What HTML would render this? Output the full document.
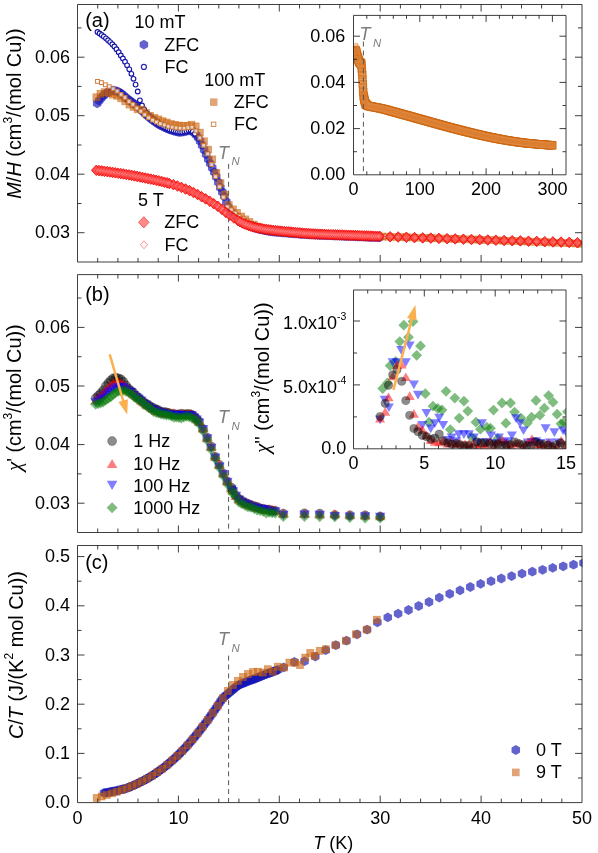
<!DOCTYPE html>
<html><head><meta charset="utf-8"><title>chart</title>
<style>
html,body{margin:0;padding:0;background:#fff;}
svg{display:block;will-change:transform;font-family:"Liberation Sans", sans-serif;}
text{font-family:"Liberation Sans", sans-serif;fill:#000;}
.t{font-size:18px;}
.yt{font-size:19.9px;}
.g{fill:#7d7d7d;font-style:italic;}
.ln{stroke:#1c1c1c;stroke-width:0.85;fill:none;}
.dash{stroke:#555;stroke-width:1;stroke-dasharray:5 3.9;fill:none;}
</style></head><body>
<svg width="598" height="853" viewBox="0 0 598 853">
<rect x="0" y="0" width="598" height="853" fill="#fff"/>
<defs>
<polygon id="hx" points="0.00,-4.90 -4.24,-2.45 -4.24,2.45 -0.00,4.90 4.24,2.45 4.24,-2.45" fill="#1616b6" fill-opacity="0.67"/>
<circle id="oc" r="2.35" fill="#fff" stroke="#1616a8" stroke-width="1.15"/>
<rect id="sq" x="-3.5" y="-3.5" width="7" height="7" fill="#ca6107" fill-opacity="0.58" stroke="#c86008" stroke-opacity="0.55" stroke-width="0.7"/>
<rect id="sqi" x="-3.7" y="-3.7" width="7.4" height="7.4" fill="#da7826" fill-opacity="0.55" stroke="#cf6912" stroke-opacity="0.85" stroke-width="0.9"/>
<rect id="osi" x="-2.6" y="-2.6" width="5.2" height="5.2" fill="none" stroke="#e08a40" stroke-opacity="0.4" stroke-width="0.9"/>
<rect id="os" x="-1.9" y="-1.9" width="3.8" height="3.8" fill="#fff" fill-opacity="0.75" stroke="#cd7a3a" stroke-width="1"/>
<polygon id="rd" points="0,-5.3 4.9,0 0,5.3 -4.9,0" fill="#ff1010" fill-opacity="0.75" stroke="#f20808" stroke-opacity="0.9" stroke-width="0.9"/>
<polygon id="od" points="0,-3.7 3.4,0 0,3.7 -3.4,0" fill="#fff" fill-opacity="0.22" stroke="#ff4040" stroke-width="0.8"/>
<circle id="k1" r="4.5" fill="#000" fill-opacity="0.45" stroke="#000" stroke-opacity="0.35" stroke-width="0.7"/>
<polygon id="k2" points="0,-5 5.3,4.2 -5.3,4.2" fill="#ff0000" fill-opacity="0.5"/>
<polygon id="k3" points="0,5 5.3,-4.2 -5.3,-4.2" fill="#0000ff" fill-opacity="0.5"/>
<polygon id="k4" points="0,-5.5 5.5,0 0,5.5 -5.5,0" fill="#007a00" fill-opacity="0.5"/>
<circle id="i1" r="4.1" fill="#000" fill-opacity="0.45" stroke="#000" stroke-opacity="0.35" stroke-width="0.7"/>
<polygon id="i2" points="0,-4.8 5,3.9 -5,3.9" fill="#ff0000" fill-opacity="0.5"/>
<polygon id="i3" points="0,4.8 5,-3.9 -5,-3.9" fill="#0000ff" fill-opacity="0.5"/>
<polygon id="i4" points="0,-5.4 5.4,0 0,5.4 -5.4,0" fill="#007a00" fill-opacity="0.5"/>
<clipPath id="ca"><rect x="77.5" y="4.5" width="504.5" height="257.5"/></clipPath>
<clipPath id="cb"><rect x="77.5" y="274.6" width="504.5" height="257.9"/></clipPath>
<clipPath id="cc"><rect x="77.5" y="545.5" width="505.0" height="257.1"/></clipPath>
<clipPath id="cia"><rect x="353.5" y="15.4" width="212.5" height="159.4"/></clipPath>
<clipPath id="cib"><rect x="353.5" y="290.0" width="212.5" height="158.8"/></clipPath>
</defs>

<path class="dash" d="M228.6 163.9V262.0"/>
<g clip-path="url(#ca)">
<use href="#hx" x="97.2" y="103.4"/><use href="#hx" x="99.2" y="100.5"/><use href="#hx" x="101.2" y="98.0"/><use href="#hx" x="103.2" y="95.9"/><use href="#hx" x="105.2" y="94.0"/><use href="#hx" x="107.3" y="92.6"/><use href="#hx" x="109.3" y="91.5"/><use href="#hx" x="111.3" y="90.8"/><use href="#hx" x="113.3" y="90.5"/><use href="#hx" x="115.3" y="90.9"/><use href="#hx" x="117.4" y="91.5"/><use href="#hx" x="119.4" y="92.4"/><use href="#hx" x="121.4" y="93.7"/><use href="#hx" x="123.4" y="95.4"/><use href="#hx" x="125.4" y="97.2"/><use href="#hx" x="127.4" y="98.9"/><use href="#hx" x="129.5" y="100.4"/><use href="#hx" x="131.5" y="101.9"/><use href="#hx" x="133.5" y="103.4"/><use href="#hx" x="135.5" y="104.9"/><use href="#hx" x="137.5" y="106.5"/><use href="#hx" x="139.6" y="108.2"/><use href="#hx" x="141.6" y="110.1"/><use href="#hx" x="143.6" y="112.1"/><use href="#hx" x="145.6" y="114.0"/><use href="#hx" x="147.6" y="115.9"/><use href="#hx" x="149.6" y="117.5"/><use href="#hx" x="151.7" y="119.2"/><use href="#hx" x="153.7" y="120.7"/><use href="#hx" x="155.7" y="122.2"/><use href="#hx" x="157.7" y="123.6"/><use href="#hx" x="159.7" y="124.8"/><use href="#hx" x="161.8" y="125.9"/><use href="#hx" x="163.8" y="126.9"/><use href="#hx" x="165.8" y="127.8"/><use href="#hx" x="167.8" y="128.7"/><use href="#hx" x="169.8" y="129.5"/><use href="#hx" x="171.8" y="130.2"/><use href="#hx" x="173.9" y="130.8"/><use href="#hx" x="175.9" y="131.3"/><use href="#hx" x="177.9" y="131.8"/><use href="#hx" x="179.9" y="132.0"/><use href="#hx" x="181.9" y="131.9"/><use href="#hx" x="183.9" y="131.5"/><use href="#hx" x="186.0" y="131.0"/><use href="#hx" x="188.0" y="130.5"/><use href="#hx" x="190.0" y="130.0"/><use href="#hx" x="192.0" y="130.7"/><use href="#hx" x="194.0" y="132.7"/><use href="#hx" x="196.1" y="134.9"/><use href="#hx" x="198.1" y="137.6"/><use href="#hx" x="200.1" y="141.0"/><use href="#hx" x="202.1" y="145.2"/><use href="#hx" x="204.1" y="149.7"/><use href="#hx" x="206.1" y="154.4"/><use href="#hx" x="208.2" y="159.1"/><use href="#hx" x="210.2" y="163.4"/><use href="#hx" x="212.2" y="167.7"/><use href="#hx" x="214.2" y="172.1"/><use href="#hx" x="216.2" y="176.8"/><use href="#hx" x="218.3" y="182.2"/><use href="#hx" x="220.3" y="187.6"/><use href="#hx" x="222.3" y="192.0"/><use href="#hx" x="224.3" y="196.4"/><use href="#hx" x="226.3" y="201.7"/><use href="#hx" x="228.3" y="207.1"/><use href="#hx" x="230.4" y="210.9"/><use href="#hx" x="232.4" y="213.5"/><use href="#hx" x="234.4" y="215.5"/><use href="#hx" x="236.4" y="217.1"/><use href="#hx" x="238.4" y="218.7"/><use href="#hx" x="240.5" y="220.1"/><use href="#hx" x="242.5" y="221.4"/><use href="#hx" x="244.5" y="222.7"/><use href="#hx" x="246.5" y="223.8"/><use href="#hx" x="248.5" y="224.9"/><use href="#hx" x="250.5" y="225.8"/><use href="#hx" x="252.6" y="226.7"/><use href="#hx" x="254.6" y="227.5"/><use href="#hx" x="256.6" y="228.2"/><use href="#hx" x="258.6" y="228.8"/><use href="#hx" x="260.6" y="229.3"/><use href="#hx" x="262.7" y="229.8"/><use href="#hx" x="264.7" y="230.3"/><use href="#hx" x="266.7" y="230.7"/><use href="#hx" x="268.7" y="231.0"/><use href="#hx" x="270.7" y="231.4"/><use href="#hx" x="272.7" y="231.6"/><use href="#hx" x="274.8" y="231.9"/><use href="#hx" x="276.8" y="232.0"/><use href="#hx" x="278.8" y="232.2"/><use href="#hx" x="280.8" y="232.4"/><use href="#hx" x="282.8" y="232.5"/><use href="#hx" x="284.8" y="232.7"/><use href="#hx" x="286.9" y="232.9"/><use href="#hx" x="288.9" y="233.0"/><use href="#hx" x="290.9" y="233.2"/><use href="#hx" x="292.9" y="233.3"/><use href="#hx" x="294.9" y="233.5"/><use href="#hx" x="297.0" y="233.7"/><use href="#hx" x="299.0" y="233.8"/><use href="#hx" x="301.0" y="234.0"/><use href="#hx" x="303.0" y="234.1"/><use href="#hx" x="305.0" y="234.2"/><use href="#hx" x="307.0" y="234.4"/><use href="#hx" x="309.1" y="234.5"/><use href="#hx" x="311.1" y="234.6"/><use href="#hx" x="313.1" y="234.7"/><use href="#hx" x="315.1" y="234.8"/><use href="#hx" x="317.1" y="234.9"/><use href="#hx" x="319.2" y="235.0"/><use href="#hx" x="321.2" y="235.0"/><use href="#hx" x="323.2" y="235.1"/><use href="#hx" x="325.2" y="235.2"/><use href="#hx" x="327.2" y="235.3"/><use href="#hx" x="329.2" y="235.4"/><use href="#hx" x="331.3" y="235.4"/><use href="#hx" x="333.3" y="235.5"/><use href="#hx" x="335.3" y="235.6"/><use href="#hx" x="337.3" y="235.7"/><use href="#hx" x="339.3" y="235.7"/><use href="#hx" x="341.4" y="235.8"/><use href="#hx" x="343.4" y="235.9"/><use href="#hx" x="345.4" y="236.0"/><use href="#hx" x="347.4" y="236.1"/><use href="#hx" x="349.4" y="236.1"/><use href="#hx" x="351.4" y="236.2"/><use href="#hx" x="353.5" y="236.3"/><use href="#hx" x="355.5" y="236.4"/><use href="#hx" x="357.5" y="236.5"/><use href="#hx" x="359.5" y="236.6"/><use href="#hx" x="361.5" y="236.6"/><use href="#hx" x="363.6" y="236.7"/><use href="#hx" x="365.6" y="236.8"/><use href="#hx" x="367.6" y="236.9"/><use href="#hx" x="369.6" y="237.0"/><use href="#hx" x="371.6" y="237.1"/><use href="#hx" x="373.6" y="237.1"/><use href="#hx" x="375.7" y="237.2"/><use href="#hx" x="377.7" y="237.3"/><use href="#hx" x="379.7" y="237.4"/>
<use href="#oc" x="97.5" y="32.0"/><use href="#oc" x="99.6" y="33.4"/><use href="#oc" x="101.7" y="35.0"/><use href="#oc" x="103.8" y="36.6"/><use href="#oc" x="106.0" y="38.3"/><use href="#oc" x="108.1" y="40.2"/><use href="#oc" x="110.2" y="42.1"/><use href="#oc" x="112.3" y="44.2"/><use href="#oc" x="114.4" y="46.5"/><use href="#oc" x="116.5" y="49.2"/><use href="#oc" x="118.7" y="52.2"/><use href="#oc" x="120.8" y="55.4"/><use href="#oc" x="122.9" y="58.5"/><use href="#oc" x="125.0" y="61.7"/><use href="#oc" x="127.1" y="65.3"/><use href="#oc" x="129.3" y="69.3"/><use href="#oc" x="131.4" y="73.8"/><use href="#oc" x="133.5" y="78.8"/><use href="#oc" x="135.6" y="84.6"/><use href="#oc" x="137.7" y="91.5"/><use href="#oc" x="139.9" y="100.3"/><use href="#oc" x="142.0" y="105.4"/><use href="#oc" x="144.1" y="109.3"/><use href="#oc" x="146.2" y="113.0"/><use href="#oc" x="148.3" y="115.9"/><use href="#oc" x="150.5" y="118.2"/><use href="#oc" x="152.6" y="120.1"/><use href="#oc" x="154.7" y="121.5"/><use href="#oc" x="156.8" y="123.0"/><use href="#oc" x="158.9" y="124.3"/><use href="#oc" x="161.0" y="125.5"/><use href="#oc" x="163.2" y="126.6"/><use href="#oc" x="165.3" y="127.6"/><use href="#oc" x="167.4" y="128.5"/><use href="#oc" x="169.5" y="129.4"/><use href="#oc" x="171.6" y="130.1"/><use href="#oc" x="173.8" y="130.7"/><use href="#oc" x="175.9" y="131.3"/><use href="#oc" x="178.0" y="131.8"/><use href="#oc" x="180.1" y="132.0"/><use href="#oc" x="182.2" y="131.9"/><use href="#oc" x="184.4" y="131.4"/><use href="#oc" x="186.5" y="130.9"/><use href="#oc" x="188.6" y="130.3"/><use href="#oc" x="190.7" y="130.0"/><use href="#oc" x="192.8" y="131.4"/><use href="#oc" x="194.9" y="133.7"/><use href="#oc" x="235.2" y="216.2"/><use href="#oc" x="237.3" y="217.8"/><use href="#oc" x="239.4" y="219.4"/><use href="#oc" x="241.6" y="220.8"/><use href="#oc" x="243.7" y="222.2"/><use href="#oc" x="245.8" y="223.5"/><use href="#oc" x="247.9" y="224.6"/><use href="#oc" x="250.0" y="225.6"/><use href="#oc" x="252.2" y="226.5"/><use href="#oc" x="254.3" y="227.4"/><use href="#oc" x="256.4" y="228.1"/><use href="#oc" x="258.5" y="228.8"/><use href="#oc" x="260.6" y="229.3"/><use href="#oc" x="262.8" y="229.8"/><use href="#oc" x="264.9" y="230.3"/><use href="#oc" x="267.0" y="230.7"/><use href="#oc" x="269.1" y="231.1"/><use href="#oc" x="271.2" y="231.4"/><use href="#oc" x="273.3" y="231.7"/><use href="#oc" x="275.5" y="231.9"/><use href="#oc" x="277.6" y="232.1"/><use href="#oc" x="279.7" y="232.3"/><use href="#oc" x="281.8" y="232.5"/><use href="#oc" x="283.9" y="232.6"/><use href="#oc" x="286.1" y="232.8"/><use href="#oc" x="288.2" y="233.0"/><use href="#oc" x="290.3" y="233.1"/><use href="#oc" x="292.4" y="233.3"/><use href="#oc" x="294.5" y="233.5"/><use href="#oc" x="296.7" y="233.6"/><use href="#oc" x="298.8" y="233.8"/><use href="#oc" x="300.9" y="233.9"/><use href="#oc" x="303.0" y="234.1"/><use href="#oc" x="305.1" y="234.2"/><use href="#oc" x="307.2" y="234.4"/><use href="#oc" x="309.4" y="234.5"/><use href="#oc" x="311.5" y="234.6"/><use href="#oc" x="313.6" y="234.7"/><use href="#oc" x="315.7" y="234.8"/><use href="#oc" x="317.8" y="234.9"/><use href="#oc" x="320.0" y="235.0"/><use href="#oc" x="322.1" y="235.1"/><use href="#oc" x="324.2" y="235.2"/><use href="#oc" x="326.3" y="235.2"/><use href="#oc" x="328.4" y="235.3"/><use href="#oc" x="330.6" y="235.4"/><use href="#oc" x="332.7" y="235.5"/><use href="#oc" x="334.8" y="235.6"/><use href="#oc" x="336.9" y="235.6"/><use href="#oc" x="339.0" y="235.7"/><use href="#oc" x="341.2" y="235.8"/><use href="#oc" x="343.3" y="235.9"/><use href="#oc" x="345.4" y="236.0"/><use href="#oc" x="347.5" y="236.1"/><use href="#oc" x="349.6" y="236.2"/><use href="#oc" x="351.7" y="236.2"/><use href="#oc" x="353.9" y="236.3"/><use href="#oc" x="356.0" y="236.4"/><use href="#oc" x="358.1" y="236.5"/><use href="#oc" x="360.2" y="236.6"/><use href="#oc" x="362.3" y="236.7"/><use href="#oc" x="364.5" y="236.8"/><use href="#oc" x="366.6" y="236.9"/><use href="#oc" x="368.7" y="236.9"/><use href="#oc" x="370.8" y="237.0"/><use href="#oc" x="372.9" y="237.1"/><use href="#oc" x="375.1" y="237.2"/><use href="#oc" x="377.2" y="237.3"/><use href="#oc" x="379.3" y="237.4"/>
<use href="#sq" x="96.4" y="97.3"/><use href="#sq" x="100.5" y="93.8"/><use href="#sq" x="104.6" y="92.2"/><use href="#sq" x="108.8" y="93.1"/><use href="#sq" x="112.9" y="94.6"/><use href="#sq" x="117.1" y="95.7"/><use href="#sq" x="121.2" y="98.3"/><use href="#sq" x="125.3" y="101.3"/><use href="#sq" x="129.5" y="104.6"/><use href="#sq" x="133.6" y="107.0"/><use href="#sq" x="137.7" y="109.3"/><use href="#sq" x="141.9" y="110.0"/><use href="#sq" x="146.0" y="113.1"/><use href="#sq" x="150.1" y="115.8"/><use href="#sq" x="154.3" y="117.9"/><use href="#sq" x="158.4" y="119.4"/><use href="#sq" x="162.6" y="121.2"/><use href="#sq" x="166.7" y="122.5"/><use href="#sq" x="170.8" y="124.1"/><use href="#sq" x="175.0" y="124.8"/><use href="#sq" x="179.1" y="125.6"/><use href="#sq" x="183.2" y="125.9"/><use href="#sq" x="187.4" y="125.8"/><use href="#sq" x="191.5" y="124.7"/><use href="#sq" x="195.7" y="126.4"/><use href="#sq" x="199.8" y="132.7"/><use href="#sq" x="203.9" y="141.3"/><use href="#sq" x="208.1" y="149.6"/><use href="#sq" x="212.2" y="159.4"/><use href="#sq" x="216.3" y="173.0"/><use href="#sq" x="220.5" y="183.2"/><use href="#sq" x="224.6" y="194.6"/><use href="#sq" x="228.7" y="205.1"/><use href="#sq" x="232.9" y="209.4"/><use href="#sq" x="237.0" y="212.9"/><use href="#sq" x="241.2" y="216.5"/><use href="#sq" x="245.3" y="219.4"/><use href="#sq" x="249.4" y="222.0"/><use href="#sq" x="253.6" y="224.6"/><use href="#sq" x="257.7" y="226.7"/><use href="#sq" x="261.8" y="228.3"/><use href="#sq" x="266.0" y="229.4"/><use href="#sq" x="270.1" y="230.2"/><use href="#sq" x="274.3" y="230.9"/><use href="#sq" x="278.4" y="231.5"/><use href="#sq" x="282.5" y="231.9"/><use href="#sq" x="286.7" y="232.4"/><use href="#sq" x="290.8" y="232.7"/><use href="#sq" x="294.9" y="233.1"/><use href="#sq" x="299.1" y="233.4"/><use href="#sq" x="303.2" y="233.7"/><use href="#sq" x="307.4" y="233.9"/><use href="#sq" x="311.5" y="234.1"/><use href="#sq" x="315.6" y="234.3"/><use href="#sq" x="319.8" y="234.4"/><use href="#sq" x="323.9" y="234.5"/><use href="#sq" x="328.0" y="234.7"/><use href="#sq" x="332.2" y="234.8"/><use href="#sq" x="336.3" y="234.9"/><use href="#sq" x="340.4" y="235.0"/><use href="#sq" x="344.6" y="235.1"/><use href="#sq" x="348.7" y="235.3"/><use href="#sq" x="352.9" y="235.4"/><use href="#sq" x="357.0" y="235.6"/><use href="#sq" x="361.1" y="235.7"/><use href="#sq" x="365.3" y="235.9"/><use href="#sq" x="369.4" y="236.0"/><use href="#sq" x="373.5" y="236.2"/><use href="#sq" x="377.7" y="236.3"/><use href="#sq" x="382.2" y="236.5"/><use href="#sq" x="388.3" y="236.7"/><use href="#sq" x="394.3" y="236.9"/><use href="#sq" x="400.4" y="237.1"/><use href="#sq" x="406.4" y="237.3"/><use href="#sq" x="412.5" y="237.5"/><use href="#sq" x="418.5" y="237.7"/><use href="#sq" x="424.6" y="237.9"/><use href="#sq" x="430.7" y="238.1"/><use href="#sq" x="436.7" y="238.3"/><use href="#sq" x="442.8" y="238.5"/><use href="#sq" x="448.8" y="238.7"/><use href="#sq" x="454.9" y="238.9"/><use href="#sq" x="460.9" y="239.1"/><use href="#sq" x="467.0" y="239.3"/><use href="#sq" x="473.0" y="239.5"/><use href="#sq" x="479.1" y="239.7"/><use href="#sq" x="485.1" y="239.9"/><use href="#sq" x="491.2" y="240.1"/><use href="#sq" x="497.2" y="240.4"/><use href="#sq" x="503.3" y="240.6"/><use href="#sq" x="509.4" y="240.8"/><use href="#sq" x="515.4" y="241.0"/><use href="#sq" x="521.5" y="241.3"/><use href="#sq" x="527.5" y="241.5"/><use href="#sq" x="533.6" y="241.7"/><use href="#sq" x="539.6" y="242.0"/><use href="#sq" x="545.7" y="242.2"/><use href="#sq" x="551.7" y="242.5"/><use href="#sq" x="557.8" y="242.7"/><use href="#sq" x="563.8" y="243.0"/><use href="#sq" x="569.9" y="243.2"/><use href="#sq" x="575.9" y="243.5"/><use href="#sq" x="582.0" y="243.7"/><use href="#sq" x="588.1" y="244.0"/>
<use href="#os" x="97.5" y="81.4"/><use href="#os" x="101.4" y="82.6"/><use href="#os" x="105.3" y="84.8"/><use href="#os" x="109.3" y="86.7"/><use href="#os" x="113.2" y="88.8"/><use href="#os" x="117.2" y="91.1"/><use href="#os" x="121.1" y="94.4"/><use href="#os" x="125.0" y="97.5"/><use href="#os" x="129.0" y="101.5"/><use href="#os" x="132.9" y="104.4"/><use href="#os" x="136.8" y="108.1"/><use href="#os" x="140.8" y="111.2"/><use href="#os" x="144.7" y="114.8"/><use href="#os" x="148.6" y="117.8"/><use href="#os" x="152.6" y="120.1"/><use href="#os" x="156.5" y="122.0"/><use href="#os" x="160.4" y="123.7"/><use href="#os" x="164.4" y="124.9"/><use href="#os" x="168.3" y="126.4"/><use href="#os" x="172.2" y="127.1"/><use href="#os" x="176.2" y="127.9"/><use href="#os" x="180.1" y="128.2"/><use href="#os" x="184.1" y="128.2"/><use href="#os" x="188.0" y="127.6"/><use href="#os" x="191.9" y="127.2"/><use href="#os" x="195.9" y="130.9"/><use href="#os" x="199.8" y="137.9"/><use href="#os" x="203.7" y="145.4"/><use href="#os" x="207.7" y="153.9"/><use href="#os" x="211.6" y="164.6"/><use href="#os" x="215.5" y="176.6"/><use href="#os" x="219.5" y="186.8"/><use href="#os" x="223.4" y="197.2"/><use href="#os" x="227.3" y="206.9"/><use href="#os" x="231.3" y="209.8"/><use href="#os" x="235.2" y="213.0"/><use href="#os" x="239.1" y="216.2"/><use href="#os" x="243.1" y="218.8"/><use href="#os" x="247.0" y="221.0"/><use href="#os" x="250.9" y="223.4"/><use href="#os" x="254.9" y="225.5"/><use href="#os" x="258.8" y="227.2"/><use href="#os" x="262.8" y="228.6"/><use href="#os" x="266.7" y="229.5"/><use href="#os" x="270.6" y="230.3"/><use href="#os" x="274.6" y="230.9"/><use href="#os" x="278.5" y="231.5"/><use href="#os" x="282.4" y="231.9"/><use href="#os" x="286.4" y="232.3"/><use href="#os" x="290.3" y="232.7"/><use href="#os" x="294.2" y="233.0"/><use href="#os" x="298.2" y="233.3"/><use href="#os" x="302.1" y="233.6"/><use href="#os" x="306.0" y="233.8"/><use href="#os" x="310.0" y="234.0"/><use href="#os" x="313.9" y="234.2"/><use href="#os" x="317.8" y="234.4"/><use href="#os" x="321.8" y="234.5"/><use href="#os" x="325.7" y="234.6"/><use href="#os" x="329.6" y="234.7"/><use href="#os" x="333.6" y="234.8"/><use href="#os" x="337.5" y="234.9"/><use href="#os" x="341.5" y="235.0"/><use href="#os" x="345.4" y="235.2"/><use href="#os" x="349.3" y="235.3"/><use href="#os" x="353.3" y="235.4"/><use href="#os" x="357.2" y="235.6"/><use href="#os" x="361.1" y="235.7"/><use href="#os" x="365.1" y="235.9"/><use href="#os" x="369.0" y="236.0"/><use href="#os" x="372.9" y="236.2"/><use href="#os" x="376.9" y="236.3"/><use href="#os" x="385.2" y="236.6"/><use href="#os" x="391.3" y="236.8"/><use href="#os" x="397.4" y="237.0"/><use href="#os" x="403.4" y="237.2"/><use href="#os" x="409.5" y="237.4"/><use href="#os" x="415.5" y="237.6"/><use href="#os" x="421.6" y="237.8"/><use href="#os" x="427.6" y="238.0"/><use href="#os" x="433.7" y="238.2"/><use href="#os" x="439.7" y="238.4"/><use href="#os" x="445.8" y="238.6"/><use href="#os" x="451.8" y="238.8"/><use href="#os" x="457.9" y="239.0"/><use href="#os" x="463.9" y="239.2"/><use href="#os" x="470.0" y="239.4"/><use href="#os" x="476.1" y="239.6"/><use href="#os" x="482.1" y="239.8"/><use href="#os" x="488.2" y="240.0"/><use href="#os" x="494.2" y="240.2"/><use href="#os" x="500.3" y="240.5"/><use href="#os" x="506.3" y="240.7"/><use href="#os" x="512.4" y="240.9"/><use href="#os" x="518.4" y="241.2"/><use href="#os" x="524.5" y="241.4"/><use href="#os" x="530.5" y="241.6"/><use href="#os" x="536.6" y="241.9"/><use href="#os" x="542.6" y="242.1"/><use href="#os" x="548.7" y="242.3"/><use href="#os" x="554.8" y="242.6"/><use href="#os" x="560.8" y="242.8"/><use href="#os" x="566.9" y="243.1"/><use href="#os" x="572.9" y="243.4"/><use href="#os" x="579.0" y="243.6"/><use href="#os" x="585.0" y="243.9"/><use href="#os" x="591.1" y="244.1"/>
<use href="#rd" x="96.3" y="170.3"/><use href="#rd" x="99.0" y="170.6"/><use href="#rd" x="101.7" y="170.9"/><use href="#rd" x="104.4" y="171.3"/><use href="#rd" x="107.2" y="171.6"/><use href="#rd" x="109.9" y="172.0"/><use href="#rd" x="112.6" y="172.4"/><use href="#rd" x="115.3" y="172.8"/><use href="#rd" x="118.1" y="173.2"/><use href="#rd" x="120.8" y="173.6"/><use href="#rd" x="123.5" y="174.0"/><use href="#rd" x="126.2" y="174.5"/><use href="#rd" x="129.0" y="174.9"/><use href="#rd" x="131.7" y="175.4"/><use href="#rd" x="134.4" y="175.9"/><use href="#rd" x="137.1" y="176.4"/><use href="#rd" x="139.9" y="176.9"/><use href="#rd" x="142.6" y="177.5"/><use href="#rd" x="145.3" y="178.0"/><use href="#rd" x="148.0" y="178.6"/><use href="#rd" x="150.8" y="179.1"/><use href="#rd" x="153.5" y="179.7"/><use href="#rd" x="156.2" y="180.3"/><use href="#rd" x="158.9" y="180.9"/><use href="#rd" x="161.7" y="181.5"/><use href="#rd" x="164.4" y="182.2"/><use href="#rd" x="167.1" y="182.9"/><use href="#rd" x="169.3" y="183.5"/><use href="#rd" x="173.4" y="184.7"/><use href="#rd" x="177.4" y="186.0"/><use href="#rd" x="181.4" y="187.4"/><use href="#rd" x="185.5" y="189.0"/><use href="#rd" x="189.5" y="190.6"/><use href="#rd" x="193.5" y="192.5"/><use href="#rd" x="197.6" y="194.5"/><use href="#rd" x="201.6" y="196.7"/><use href="#rd" x="205.6" y="198.9"/><use href="#rd" x="209.7" y="201.2"/><use href="#rd" x="213.7" y="203.7"/><use href="#rd" x="217.8" y="206.3"/><use href="#rd" x="221.8" y="209.2"/><use href="#rd" x="225.8" y="212.4"/><use href="#rd" x="229.9" y="215.3"/><use href="#rd" x="233.9" y="218.0"/><use href="#rd" x="237.9" y="220.5"/><use href="#rd" x="239.9" y="221.7"/><use href="#rd" x="242.2" y="222.9"/><use href="#rd" x="244.4" y="223.9"/><use href="#rd" x="246.6" y="224.8"/><use href="#rd" x="248.8" y="225.6"/><use href="#rd" x="251.0" y="226.3"/><use href="#rd" x="253.3" y="226.9"/><use href="#rd" x="255.5" y="227.5"/><use href="#rd" x="257.7" y="228.0"/><use href="#rd" x="259.9" y="228.4"/><use href="#rd" x="262.1" y="228.8"/><use href="#rd" x="264.4" y="229.2"/><use href="#rd" x="266.6" y="229.5"/><use href="#rd" x="268.8" y="229.8"/><use href="#rd" x="271.0" y="230.1"/><use href="#rd" x="273.2" y="230.4"/><use href="#rd" x="275.5" y="230.6"/><use href="#rd" x="277.7" y="230.9"/><use href="#rd" x="279.9" y="231.1"/><use href="#rd" x="282.1" y="231.3"/><use href="#rd" x="284.3" y="231.5"/><use href="#rd" x="286.6" y="231.7"/><use href="#rd" x="288.8" y="231.9"/><use href="#rd" x="291.0" y="232.1"/><use href="#rd" x="293.2" y="232.3"/><use href="#rd" x="295.4" y="232.5"/><use href="#rd" x="297.7" y="232.7"/><use href="#rd" x="299.9" y="232.9"/><use href="#rd" x="302.1" y="233.1"/><use href="#rd" x="304.3" y="233.3"/><use href="#rd" x="306.5" y="233.4"/><use href="#rd" x="308.8" y="233.6"/><use href="#rd" x="311.0" y="233.8"/><use href="#rd" x="313.2" y="233.9"/><use href="#rd" x="315.4" y="234.0"/><use href="#rd" x="317.6" y="234.1"/><use href="#rd" x="319.9" y="234.2"/><use href="#rd" x="322.1" y="234.3"/><use href="#rd" x="324.3" y="234.4"/><use href="#rd" x="326.5" y="234.5"/><use href="#rd" x="328.7" y="234.6"/><use href="#rd" x="331.0" y="234.7"/><use href="#rd" x="333.2" y="234.7"/><use href="#rd" x="335.4" y="234.8"/><use href="#rd" x="337.6" y="234.9"/><use href="#rd" x="339.8" y="235.0"/><use href="#rd" x="342.1" y="235.0"/><use href="#rd" x="344.3" y="235.1"/><use href="#rd" x="346.5" y="235.2"/><use href="#rd" x="348.7" y="235.3"/><use href="#rd" x="350.9" y="235.4"/><use href="#rd" x="353.2" y="235.4"/><use href="#rd" x="355.4" y="235.5"/><use href="#rd" x="357.6" y="235.6"/><use href="#rd" x="359.8" y="235.7"/><use href="#rd" x="362.0" y="235.8"/><use href="#rd" x="364.3" y="235.9"/><use href="#rd" x="366.5" y="235.9"/><use href="#rd" x="368.7" y="236.0"/><use href="#rd" x="370.9" y="236.1"/><use href="#rd" x="373.1" y="236.2"/><use href="#rd" x="375.4" y="236.3"/><use href="#rd" x="377.6" y="236.3"/><use href="#rd" x="379.8" y="236.4"/><use href="#rd" x="390.1" y="236.8"/><use href="#rd" x="398.2" y="237.0"/><use href="#rd" x="406.4" y="237.3"/><use href="#rd" x="414.5" y="237.6"/><use href="#rd" x="422.7" y="237.9"/><use href="#rd" x="430.8" y="238.1"/><use href="#rd" x="438.9" y="238.4"/><use href="#rd" x="447.1" y="238.7"/><use href="#rd" x="455.2" y="238.9"/><use href="#rd" x="463.4" y="239.2"/><use href="#rd" x="471.5" y="239.5"/><use href="#rd" x="479.7" y="239.7"/><use href="#rd" x="487.8" y="240.0"/><use href="#rd" x="495.9" y="240.2"/><use href="#rd" x="504.1" y="240.5"/><use href="#rd" x="512.2" y="240.7"/><use href="#rd" x="520.4" y="240.9"/><use href="#rd" x="528.5" y="241.2"/><use href="#rd" x="536.7" y="241.4"/><use href="#rd" x="544.8" y="241.7"/><use href="#rd" x="552.9" y="241.9"/><use href="#rd" x="561.1" y="242.1"/><use href="#rd" x="569.2" y="242.4"/><use href="#rd" x="577.4" y="242.7"/><use href="#rd" x="585.5" y="242.9"/>
<use href="#od" x="96.3" y="170.3"/><use href="#od" x="99.0" y="170.6"/><use href="#od" x="101.7" y="170.9"/><use href="#od" x="104.4" y="171.3"/><use href="#od" x="107.2" y="171.6"/><use href="#od" x="109.9" y="172.0"/><use href="#od" x="112.6" y="172.4"/><use href="#od" x="115.3" y="172.8"/><use href="#od" x="118.1" y="173.2"/><use href="#od" x="120.8" y="173.6"/><use href="#od" x="123.5" y="174.0"/><use href="#od" x="126.2" y="174.5"/><use href="#od" x="129.0" y="174.9"/><use href="#od" x="131.7" y="175.4"/><use href="#od" x="134.4" y="175.9"/><use href="#od" x="137.1" y="176.4"/><use href="#od" x="139.9" y="176.9"/><use href="#od" x="142.6" y="177.5"/><use href="#od" x="145.3" y="178.0"/><use href="#od" x="148.0" y="178.6"/><use href="#od" x="150.8" y="179.1"/><use href="#od" x="153.5" y="179.7"/><use href="#od" x="156.2" y="180.3"/><use href="#od" x="158.9" y="180.9"/><use href="#od" x="161.7" y="181.5"/><use href="#od" x="164.4" y="182.2"/><use href="#od" x="167.1" y="182.9"/><use href="#od" x="169.3" y="183.5"/><use href="#od" x="173.4" y="184.7"/><use href="#od" x="177.4" y="186.0"/><use href="#od" x="181.4" y="187.4"/><use href="#od" x="185.5" y="189.0"/><use href="#od" x="189.5" y="190.6"/><use href="#od" x="193.5" y="192.5"/><use href="#od" x="197.6" y="194.5"/><use href="#od" x="201.6" y="196.7"/><use href="#od" x="205.6" y="198.9"/><use href="#od" x="209.7" y="201.2"/><use href="#od" x="213.7" y="203.7"/><use href="#od" x="217.8" y="206.3"/><use href="#od" x="221.8" y="209.2"/><use href="#od" x="225.8" y="212.4"/><use href="#od" x="229.9" y="215.3"/><use href="#od" x="233.9" y="218.0"/><use href="#od" x="237.9" y="220.5"/><use href="#od" x="239.9" y="221.7"/><use href="#od" x="242.2" y="222.9"/><use href="#od" x="244.4" y="223.9"/><use href="#od" x="246.6" y="224.8"/><use href="#od" x="248.8" y="225.6"/><use href="#od" x="251.0" y="226.3"/><use href="#od" x="253.3" y="226.9"/><use href="#od" x="255.5" y="227.5"/><use href="#od" x="257.7" y="228.0"/><use href="#od" x="259.9" y="228.4"/><use href="#od" x="262.1" y="228.8"/><use href="#od" x="264.4" y="229.2"/><use href="#od" x="266.6" y="229.5"/><use href="#od" x="268.8" y="229.8"/><use href="#od" x="271.0" y="230.1"/><use href="#od" x="273.2" y="230.4"/><use href="#od" x="275.5" y="230.6"/><use href="#od" x="277.7" y="230.9"/><use href="#od" x="279.9" y="231.1"/><use href="#od" x="282.1" y="231.3"/><use href="#od" x="284.3" y="231.5"/><use href="#od" x="286.6" y="231.7"/><use href="#od" x="288.8" y="231.9"/><use href="#od" x="291.0" y="232.1"/><use href="#od" x="293.2" y="232.3"/><use href="#od" x="295.4" y="232.5"/><use href="#od" x="297.7" y="232.7"/><use href="#od" x="299.9" y="232.9"/><use href="#od" x="302.1" y="233.1"/><use href="#od" x="304.3" y="233.3"/><use href="#od" x="306.5" y="233.4"/><use href="#od" x="308.8" y="233.6"/><use href="#od" x="311.0" y="233.8"/><use href="#od" x="313.2" y="233.9"/><use href="#od" x="315.4" y="234.0"/><use href="#od" x="317.6" y="234.1"/><use href="#od" x="319.9" y="234.2"/><use href="#od" x="322.1" y="234.3"/><use href="#od" x="324.3" y="234.4"/><use href="#od" x="326.5" y="234.5"/><use href="#od" x="328.7" y="234.6"/><use href="#od" x="331.0" y="234.7"/><use href="#od" x="333.2" y="234.7"/><use href="#od" x="335.4" y="234.8"/><use href="#od" x="337.6" y="234.9"/><use href="#od" x="339.8" y="235.0"/><use href="#od" x="342.1" y="235.0"/><use href="#od" x="344.3" y="235.1"/><use href="#od" x="346.5" y="235.2"/><use href="#od" x="348.7" y="235.3"/><use href="#od" x="350.9" y="235.4"/><use href="#od" x="353.2" y="235.4"/><use href="#od" x="355.4" y="235.5"/><use href="#od" x="357.6" y="235.6"/><use href="#od" x="359.8" y="235.7"/><use href="#od" x="362.0" y="235.8"/><use href="#od" x="364.3" y="235.9"/><use href="#od" x="366.5" y="235.9"/><use href="#od" x="368.7" y="236.0"/><use href="#od" x="370.9" y="236.1"/><use href="#od" x="373.1" y="236.2"/><use href="#od" x="375.4" y="236.3"/><use href="#od" x="377.6" y="236.3"/><use href="#od" x="379.8" y="236.4"/><use href="#od" x="390.1" y="236.8"/><use href="#od" x="398.2" y="237.0"/><use href="#od" x="406.4" y="237.3"/><use href="#od" x="414.5" y="237.6"/><use href="#od" x="422.7" y="237.9"/><use href="#od" x="430.8" y="238.1"/><use href="#od" x="438.9" y="238.4"/><use href="#od" x="447.1" y="238.7"/><use href="#od" x="455.2" y="238.9"/><use href="#od" x="463.4" y="239.2"/><use href="#od" x="471.5" y="239.5"/><use href="#od" x="479.7" y="239.7"/><use href="#od" x="487.8" y="240.0"/><use href="#od" x="495.9" y="240.2"/><use href="#od" x="504.1" y="240.5"/><use href="#od" x="512.2" y="240.7"/><use href="#od" x="520.4" y="240.9"/><use href="#od" x="528.5" y="241.2"/><use href="#od" x="536.7" y="241.4"/><use href="#od" x="544.8" y="241.7"/><use href="#od" x="552.9" y="241.9"/><use href="#od" x="561.1" y="242.1"/><use href="#od" x="569.2" y="242.4"/><use href="#od" x="577.4" y="242.7"/><use href="#od" x="585.5" y="242.9"/>
</g>
<path class="ln" d="M77.5 4.5H582V262H77.5ZM178.4 262v-7M178.4 4.5v7M279.3 262v-7M279.3 4.5v7M380.2 262v-7M380.2 4.5v7M481.1 262v-7M481.1 4.5v7M97.7 262v-4M97.7 4.5v4M117.9 262v-4M117.9 4.5v4M138 262v-4M138 4.5v4M158.2 262v-4M158.2 4.5v4M198.6 262v-4M198.6 4.5v4M218.8 262v-4M218.8 4.5v4M238.9 262v-4M238.9 4.5v4M259.1 262v-4M259.1 4.5v4M299.5 262v-4M299.5 4.5v4M319.7 262v-4M319.7 4.5v4M339.8 262v-4M339.8 4.5v4M360 262v-4M360 4.5v4M400.4 262v-4M400.4 4.5v4M420.6 262v-4M420.6 4.5v4M440.7 262v-4M440.7 4.5v4M460.9 262v-4M460.9 4.5v4M501.3 262v-4M501.3 4.5v4M521.5 262v-4M521.5 4.5v4M541.6 262v-4M541.6 4.5v4M561.8 262v-4M561.8 4.5v4M77.5 232.7h7M582 232.7h-7M77.5 174.2h7M582 174.2h-7M77.5 115.7h7M582 115.7h-7M77.5 57.2h7M582 57.2h-7M77.5 203.5h4M582 203.5h-4M77.5 145h4M582 145h-4M77.5 86.4h4M582 86.4h-4M77.5 27.9h4M582 27.9h-4"/>
<text class="t" x="70" y="238.3" text-anchor="end">0.03</text>
<text class="t" x="70" y="179.8" text-anchor="end">0.04</text>
<text class="t" x="70" y="121.3" text-anchor="end">0.05</text>
<text class="t" x="70" y="62.8" text-anchor="end">0.06</text>
<text class="yt" transform="translate(20.8 113.6) rotate(-90)" text-anchor="middle"><tspan font-style="italic">M</tspan>/<tspan font-style="italic">H</tspan> (cm<tspan font-size="12" dy="-9.2">3</tspan><tspan dy="9.2">/(mol Cu))</tspan></text>
<text class="t" x="85.2" y="27.4" style="font-size:20px">(a)</text>
<text class="t" x="134.4" y="28.4">10 mT</text>
<use href="#hx" x="143.9" y="44.6"/><text class="t" x="164.3" y="50.5">ZFC</text>
<circle cx="143.9" cy="66.9" r="2.5" fill="#fff" stroke="#2a2ab0" stroke-width="1.2"/><text class="t" x="164.5" y="72.7">FC</text>
<text class="t" x="204.2" y="85.9">100 mT</text>
<rect x="210" y="98.4" width="7.5" height="7.5" fill="#c85a0a" fill-opacity="0.55"/><text class="t" x="233.8" y="107.7">ZFC</text>
<rect x="211.4" y="122.1" width="4.4" height="4.4" fill="#fff" stroke="#d58a50" stroke-width="1"/><text class="t" x="234" y="129.9">FC</text>
<text class="t" x="138" y="205.8">5 T</text>
<polygon points="143.8,216.7 149,222.3 143.8,227.9 138.6,222.3" fill="#ff2a2a" fill-opacity="0.55" stroke="#f02020" stroke-opacity="0.7" stroke-width="0.9"/><text class="t" x="164.3" y="228.2">ZFC</text>
<polygon points="144,240.9 147.6,244.8 144,248.7 140.4,244.8" fill="#fff" stroke="#ff7070" stroke-width="0.8"/><text class="t" x="164.5" y="250.8">FC</text>
<text class="t g" x="218" y="158.7">T<tspan font-size="11.3" dx="2.6" dy="6.1">N</tspan></text>
<g clip-path="url(#cia)">
<use href="#sqi" x="354.8" y="51.9"/><use href="#sqi" x="355.0" y="50.6"/><use href="#sqi" x="355.3" y="50.0"/><use href="#sqi" x="355.5" y="50.3"/><use href="#sqi" x="355.8" y="50.9"/><use href="#sqi" x="356.1" y="51.3"/><use href="#sqi" x="356.3" y="52.2"/><use href="#sqi" x="356.6" y="53.3"/><use href="#sqi" x="356.8" y="54.6"/><use href="#sqi" x="357.1" y="55.5"/><use href="#sqi" x="357.3" y="56.6"/><use href="#sqi" x="357.6" y="56.8"/><use href="#sqi" x="357.9" y="57.6"/><use href="#sqi" x="358.1" y="58.8"/><use href="#sqi" x="358.4" y="59.7"/><use href="#sqi" x="358.6" y="60.4"/><use href="#sqi" x="358.9" y="61.0"/><use href="#sqi" x="359.2" y="61.6"/><use href="#sqi" x="359.4" y="62.1"/><use href="#sqi" x="359.7" y="62.7"/><use href="#sqi" x="359.9" y="62.9"/><use href="#sqi" x="360.2" y="63.2"/><use href="#sqi" x="360.4" y="63.3"/><use href="#sqi" x="360.7" y="63.3"/><use href="#sqi" x="361.0" y="62.9"/><use href="#sqi" x="361.2" y="63.3"/><use href="#sqi" x="361.5" y="65.4"/><use href="#sqi" x="361.7" y="68.6"/><use href="#sqi" x="362.0" y="71.7"/><use href="#sqi" x="362.3" y="75.2"/><use href="#sqi" x="362.5" y="79.8"/><use href="#sqi" x="362.8" y="84.1"/><use href="#sqi" x="363.0" y="88.3"/><use href="#sqi" x="363.3" y="92.3"/><use href="#sqi" x="363.6" y="95.7"/><use href="#sqi" x="363.8" y="96.7"/><use href="#sqi" x="364.1" y="98.2"/><use href="#sqi" x="364.3" y="99.4"/><use href="#sqi" x="364.6" y="100.4"/><use href="#sqi" x="364.8" y="101.4"/><use href="#sqi" x="365.1" y="102.4"/><use href="#sqi" x="365.4" y="103.2"/><use href="#sqi" x="365.6" y="103.8"/><use href="#sqi" x="365.9" y="104.2"/><use href="#sqi" x="366.1" y="104.5"/><use href="#sqi" x="366.4" y="104.7"/><use href="#sqi" x="366.7" y="105.0"/><use href="#sqi" x="366.8" y="105.0"/><use href="#sqi" x="367.4" y="105.5"/><use href="#sqi" x="368.1" y="105.8"/><use href="#sqi" x="368.7" y="106.0"/><use href="#sqi" x="369.4" y="106.2"/><use href="#sqi" x="370.1" y="106.3"/><use href="#sqi" x="370.7" y="106.4"/><use href="#sqi" x="371.4" y="106.5"/><use href="#sqi" x="372.1" y="106.7"/><use href="#sqi" x="372.7" y="106.8"/><use href="#sqi" x="373.4" y="107.0"/><use href="#sqi" x="374.1" y="107.1"/><use href="#sqi" x="374.7" y="107.2"/><use href="#sqi" x="375.4" y="107.4"/><use href="#sqi" x="376.0" y="107.5"/><use href="#sqi" x="376.7" y="107.6"/><use href="#sqi" x="377.4" y="107.7"/><use href="#sqi" x="378.0" y="107.9"/><use href="#sqi" x="378.7" y="108.0"/><use href="#sqi" x="379.4" y="108.1"/><use href="#sqi" x="380.0" y="108.3"/><use href="#sqi" x="380.7" y="108.4"/><use href="#sqi" x="381.3" y="108.6"/><use href="#sqi" x="382.0" y="108.7"/><use href="#sqi" x="382.7" y="108.9"/><use href="#sqi" x="383.3" y="109.0"/><use href="#sqi" x="384.0" y="109.2"/><use href="#sqi" x="384.7" y="109.3"/><use href="#sqi" x="385.3" y="109.5"/><use href="#sqi" x="386.0" y="109.7"/><use href="#sqi" x="386.6" y="109.8"/><use href="#sqi" x="387.3" y="110.0"/><use href="#sqi" x="388.0" y="110.2"/><use href="#sqi" x="388.6" y="110.4"/><use href="#sqi" x="389.3" y="110.6"/><use href="#sqi" x="390.0" y="110.8"/><use href="#sqi" x="390.6" y="111.0"/><use href="#sqi" x="391.3" y="111.2"/><use href="#sqi" x="392.0" y="111.4"/><use href="#sqi" x="392.6" y="111.5"/><use href="#sqi" x="393.3" y="111.7"/><use href="#sqi" x="393.9" y="111.9"/><use href="#sqi" x="394.6" y="112.1"/><use href="#sqi" x="395.3" y="112.3"/><use href="#sqi" x="395.9" y="112.5"/><use href="#sqi" x="396.6" y="112.7"/><use href="#sqi" x="397.3" y="112.8"/><use href="#sqi" x="397.9" y="113.0"/><use href="#sqi" x="398.6" y="113.2"/><use href="#sqi" x="399.2" y="113.4"/><use href="#sqi" x="399.9" y="113.6"/><use href="#sqi" x="400.6" y="113.7"/><use href="#sqi" x="401.2" y="113.9"/><use href="#sqi" x="401.9" y="114.1"/><use href="#sqi" x="402.6" y="114.3"/><use href="#sqi" x="403.2" y="114.5"/><use href="#sqi" x="403.9" y="114.6"/><use href="#sqi" x="404.6" y="114.8"/><use href="#sqi" x="405.2" y="115.0"/><use href="#sqi" x="405.9" y="115.2"/><use href="#sqi" x="406.5" y="115.4"/><use href="#sqi" x="407.2" y="115.5"/><use href="#sqi" x="407.9" y="115.7"/><use href="#sqi" x="408.5" y="115.9"/><use href="#sqi" x="409.2" y="116.1"/><use href="#sqi" x="409.9" y="116.3"/><use href="#sqi" x="410.5" y="116.5"/><use href="#sqi" x="411.2" y="116.7"/><use href="#sqi" x="411.8" y="116.8"/><use href="#sqi" x="412.5" y="117.0"/><use href="#sqi" x="413.2" y="117.2"/><use href="#sqi" x="413.8" y="117.4"/><use href="#sqi" x="414.5" y="117.6"/><use href="#sqi" x="415.2" y="117.8"/><use href="#sqi" x="415.8" y="118.0"/><use href="#sqi" x="416.5" y="118.2"/><use href="#sqi" x="417.1" y="118.3"/><use href="#sqi" x="417.8" y="118.5"/><use href="#sqi" x="418.5" y="118.7"/><use href="#sqi" x="419.1" y="118.9"/><use href="#sqi" x="419.8" y="119.1"/><use href="#sqi" x="420.5" y="119.3"/><use href="#sqi" x="421.1" y="119.5"/><use href="#sqi" x="421.8" y="119.6"/><use href="#sqi" x="422.5" y="119.8"/><use href="#sqi" x="423.1" y="120.0"/><use href="#sqi" x="423.8" y="120.2"/><use href="#sqi" x="424.4" y="120.4"/><use href="#sqi" x="425.1" y="120.6"/><use href="#sqi" x="425.8" y="120.8"/><use href="#sqi" x="426.4" y="120.9"/><use href="#sqi" x="427.1" y="121.1"/><use href="#sqi" x="427.8" y="121.3"/><use href="#sqi" x="428.4" y="121.5"/><use href="#sqi" x="429.1" y="121.7"/><use href="#sqi" x="429.7" y="121.9"/><use href="#sqi" x="430.4" y="122.1"/><use href="#sqi" x="431.1" y="122.2"/><use href="#sqi" x="431.7" y="122.4"/><use href="#sqi" x="432.4" y="122.6"/><use href="#sqi" x="433.1" y="122.8"/><use href="#sqi" x="433.7" y="123.0"/><use href="#sqi" x="434.4" y="123.2"/><use href="#sqi" x="435.0" y="123.4"/><use href="#sqi" x="435.7" y="123.5"/><use href="#sqi" x="436.4" y="123.7"/><use href="#sqi" x="437.0" y="123.9"/><use href="#sqi" x="437.7" y="124.1"/><use href="#sqi" x="438.4" y="124.3"/><use href="#sqi" x="439.0" y="124.4"/><use href="#sqi" x="439.7" y="124.6"/><use href="#sqi" x="440.4" y="124.8"/><use href="#sqi" x="441.0" y="125.0"/><use href="#sqi" x="441.7" y="125.2"/><use href="#sqi" x="442.3" y="125.4"/><use href="#sqi" x="443.0" y="125.5"/><use href="#sqi" x="443.7" y="125.7"/><use href="#sqi" x="444.3" y="125.9"/><use href="#sqi" x="445.0" y="126.1"/><use href="#sqi" x="445.7" y="126.3"/><use href="#sqi" x="446.3" y="126.4"/><use href="#sqi" x="447.0" y="126.6"/><use href="#sqi" x="447.6" y="126.8"/><use href="#sqi" x="448.3" y="127.0"/><use href="#sqi" x="449.0" y="127.2"/><use href="#sqi" x="449.6" y="127.3"/><use href="#sqi" x="450.3" y="127.5"/><use href="#sqi" x="451.0" y="127.7"/><use href="#sqi" x="451.6" y="127.9"/><use href="#sqi" x="452.3" y="128.1"/><use href="#sqi" x="452.9" y="128.2"/><use href="#sqi" x="453.6" y="128.4"/><use href="#sqi" x="454.3" y="128.6"/><use href="#sqi" x="454.9" y="128.8"/><use href="#sqi" x="455.6" y="128.9"/><use href="#sqi" x="456.3" y="129.1"/><use href="#sqi" x="456.9" y="129.3"/><use href="#sqi" x="457.6" y="129.5"/><use href="#sqi" x="458.3" y="129.6"/><use href="#sqi" x="458.9" y="129.8"/><use href="#sqi" x="459.6" y="130.0"/><use href="#sqi" x="460.2" y="130.1"/><use href="#sqi" x="460.9" y="130.3"/><use href="#sqi" x="461.6" y="130.5"/><use href="#sqi" x="462.2" y="130.6"/><use href="#sqi" x="462.9" y="130.8"/><use href="#sqi" x="463.6" y="131.0"/><use href="#sqi" x="464.2" y="131.1"/><use href="#sqi" x="464.9" y="131.3"/><use href="#sqi" x="465.5" y="131.5"/><use href="#sqi" x="466.2" y="131.6"/><use href="#sqi" x="466.9" y="131.8"/><use href="#sqi" x="467.5" y="132.0"/><use href="#sqi" x="468.2" y="132.1"/><use href="#sqi" x="468.9" y="132.3"/><use href="#sqi" x="469.5" y="132.5"/><use href="#sqi" x="470.2" y="132.6"/><use href="#sqi" x="470.9" y="132.8"/><use href="#sqi" x="471.5" y="132.9"/><use href="#sqi" x="472.2" y="133.1"/><use href="#sqi" x="472.8" y="133.3"/><use href="#sqi" x="473.5" y="133.4"/><use href="#sqi" x="474.2" y="133.6"/><use href="#sqi" x="474.8" y="133.7"/><use href="#sqi" x="475.5" y="133.9"/><use href="#sqi" x="476.2" y="134.1"/><use href="#sqi" x="476.8" y="134.2"/><use href="#sqi" x="477.5" y="134.4"/><use href="#sqi" x="478.1" y="134.5"/><use href="#sqi" x="478.8" y="134.7"/><use href="#sqi" x="479.5" y="134.8"/><use href="#sqi" x="480.1" y="135.0"/><use href="#sqi" x="480.8" y="135.1"/><use href="#sqi" x="481.5" y="135.3"/><use href="#sqi" x="482.1" y="135.4"/><use href="#sqi" x="482.8" y="135.6"/><use href="#sqi" x="483.4" y="135.7"/><use href="#sqi" x="484.1" y="135.9"/><use href="#sqi" x="484.8" y="136.0"/><use href="#sqi" x="485.4" y="136.2"/><use href="#sqi" x="486.1" y="136.3"/><use href="#sqi" x="486.8" y="136.5"/><use href="#sqi" x="487.4" y="136.6"/><use href="#sqi" x="488.1" y="136.7"/><use href="#sqi" x="488.8" y="136.9"/><use href="#sqi" x="489.4" y="137.0"/><use href="#sqi" x="490.1" y="137.2"/><use href="#sqi" x="490.7" y="137.3"/><use href="#sqi" x="491.4" y="137.4"/><use href="#sqi" x="492.1" y="137.6"/><use href="#sqi" x="492.7" y="137.7"/><use href="#sqi" x="493.4" y="137.9"/><use href="#sqi" x="494.1" y="138.0"/><use href="#sqi" x="494.7" y="138.1"/><use href="#sqi" x="495.4" y="138.3"/><use href="#sqi" x="496.0" y="138.4"/><use href="#sqi" x="496.7" y="138.5"/><use href="#sqi" x="497.4" y="138.7"/><use href="#sqi" x="498.0" y="138.8"/><use href="#sqi" x="498.7" y="138.9"/><use href="#sqi" x="499.4" y="139.0"/><use href="#sqi" x="500.0" y="139.2"/><use href="#sqi" x="500.7" y="139.3"/><use href="#sqi" x="501.3" y="139.4"/><use href="#sqi" x="502.0" y="139.5"/><use href="#sqi" x="502.7" y="139.6"/><use href="#sqi" x="503.3" y="139.8"/><use href="#sqi" x="504.0" y="139.9"/><use href="#sqi" x="504.7" y="140.0"/><use href="#sqi" x="505.3" y="140.1"/><use href="#sqi" x="506.0" y="140.2"/><use href="#sqi" x="506.7" y="140.3"/><use href="#sqi" x="507.3" y="140.4"/><use href="#sqi" x="508.0" y="140.5"/><use href="#sqi" x="508.6" y="140.6"/><use href="#sqi" x="509.3" y="140.8"/><use href="#sqi" x="510.0" y="140.9"/><use href="#sqi" x="510.6" y="141.0"/><use href="#sqi" x="511.3" y="141.1"/><use href="#sqi" x="512.0" y="141.2"/><use href="#sqi" x="512.6" y="141.3"/><use href="#sqi" x="513.3" y="141.4"/><use href="#sqi" x="513.9" y="141.5"/><use href="#sqi" x="514.6" y="141.6"/><use href="#sqi" x="515.3" y="141.7"/><use href="#sqi" x="515.9" y="141.8"/><use href="#sqi" x="516.6" y="141.9"/><use href="#sqi" x="517.3" y="142.0"/><use href="#sqi" x="517.9" y="142.1"/><use href="#sqi" x="518.6" y="142.2"/><use href="#sqi" x="519.2" y="142.3"/><use href="#sqi" x="519.9" y="142.3"/><use href="#sqi" x="520.6" y="142.4"/><use href="#sqi" x="521.2" y="142.5"/><use href="#sqi" x="521.9" y="142.6"/><use href="#sqi" x="522.6" y="142.7"/><use href="#sqi" x="523.2" y="142.8"/><use href="#sqi" x="523.9" y="142.9"/><use href="#sqi" x="524.6" y="142.9"/><use href="#sqi" x="525.2" y="143.0"/><use href="#sqi" x="525.9" y="143.1"/><use href="#sqi" x="526.5" y="143.2"/><use href="#sqi" x="527.2" y="143.2"/><use href="#sqi" x="527.9" y="143.3"/><use href="#sqi" x="528.5" y="143.4"/><use href="#sqi" x="529.2" y="143.4"/><use href="#sqi" x="529.9" y="143.5"/><use href="#sqi" x="530.5" y="143.6"/><use href="#sqi" x="531.2" y="143.6"/><use href="#sqi" x="531.8" y="143.7"/><use href="#sqi" x="532.5" y="143.8"/><use href="#sqi" x="533.2" y="143.8"/><use href="#sqi" x="533.8" y="143.9"/><use href="#sqi" x="534.5" y="143.9"/><use href="#sqi" x="535.2" y="144.0"/><use href="#sqi" x="535.8" y="144.1"/><use href="#sqi" x="536.5" y="144.1"/><use href="#sqi" x="537.2" y="144.2"/><use href="#sqi" x="537.8" y="144.2"/><use href="#sqi" x="538.5" y="144.3"/><use href="#sqi" x="539.1" y="144.4"/><use href="#sqi" x="539.8" y="144.4"/><use href="#sqi" x="540.5" y="144.5"/><use href="#sqi" x="541.1" y="144.5"/><use href="#sqi" x="541.8" y="144.6"/><use href="#sqi" x="542.5" y="144.6"/><use href="#sqi" x="543.1" y="144.7"/><use href="#sqi" x="543.8" y="144.7"/><use href="#sqi" x="544.4" y="144.8"/><use href="#sqi" x="545.1" y="144.8"/><use href="#sqi" x="545.8" y="144.9"/><use href="#sqi" x="546.4" y="144.9"/><use href="#sqi" x="547.1" y="145.0"/><use href="#sqi" x="547.8" y="145.0"/><use href="#sqi" x="548.4" y="145.1"/><use href="#sqi" x="549.1" y="145.1"/><use href="#sqi" x="549.7" y="145.1"/><use href="#sqi" x="550.4" y="145.2"/><use href="#sqi" x="551.1" y="145.2"/><use href="#sqi" x="551.7" y="145.2"/><use href="#sqi" x="552.4" y="145.3"/>
<use href="#osi" x="354.8" y="45.8"/><use href="#osi" x="355.1" y="46.2"/><use href="#osi" x="355.3" y="47.1"/><use href="#osi" x="355.6" y="47.9"/><use href="#osi" x="355.8" y="48.7"/><use href="#osi" x="356.1" y="49.6"/><use href="#osi" x="356.4" y="50.9"/><use href="#osi" x="356.6" y="52.1"/><use href="#osi" x="356.9" y="53.7"/><use href="#osi" x="357.1" y="54.9"/><use href="#osi" x="357.4" y="56.3"/><use href="#osi" x="357.7" y="57.5"/><use href="#osi" x="357.9" y="59.0"/><use href="#osi" x="358.2" y="60.1"/><use href="#osi" x="358.4" y="61.1"/><use href="#osi" x="358.7" y="61.8"/><use href="#osi" x="358.9" y="62.4"/><use href="#osi" x="359.2" y="62.9"/><use href="#osi" x="359.5" y="63.5"/><use href="#osi" x="359.7" y="63.8"/><use href="#osi" x="360.0" y="64.1"/><use href="#osi" x="360.2" y="64.3"/><use href="#osi" x="360.5" y="64.2"/><use href="#osi" x="360.8" y="64.0"/><use href="#osi" x="361.0" y="63.9"/><use href="#osi" x="361.3" y="65.3"/><use href="#osi" x="361.5" y="68.1"/><use href="#osi" x="361.8" y="71.0"/><use href="#osi" x="362.1" y="74.4"/><use href="#osi" x="362.3" y="78.6"/><use href="#osi" x="362.6" y="83.3"/><use href="#osi" x="362.8" y="87.4"/><use href="#osi" x="363.1" y="91.5"/><use href="#osi" x="363.3" y="95.3"/><use href="#osi" x="363.6" y="96.4"/><use href="#osi" x="363.9" y="97.7"/><use href="#osi" x="364.1" y="99.0"/><use href="#osi" x="364.4" y="100.0"/><use href="#osi" x="364.6" y="100.9"/><use href="#osi" x="364.9" y="101.8"/><use href="#osi" x="365.2" y="102.6"/><use href="#osi" x="365.4" y="103.3"/><use href="#osi" x="365.7" y="103.8"/><use href="#osi" x="365.9" y="104.2"/><use href="#osi" x="366.2" y="104.5"/><use href="#osi" x="366.4" y="104.8"/><use href="#osi" x="366.7" y="105.0"/><use href="#osi" x="367.0" y="105.2"/><use href="#osi" x="367.6" y="105.6"/><use href="#osi" x="368.3" y="105.9"/><use href="#osi" x="368.9" y="106.1"/><use href="#osi" x="369.6" y="106.2"/><use href="#osi" x="370.3" y="106.3"/><use href="#osi" x="370.9" y="106.4"/><use href="#osi" x="371.6" y="106.6"/><use href="#osi" x="372.3" y="106.7"/><use href="#osi" x="372.9" y="106.9"/><use href="#osi" x="373.6" y="107.0"/><use href="#osi" x="374.3" y="107.1"/><use href="#osi" x="374.9" y="107.3"/><use href="#osi" x="375.6" y="107.4"/><use href="#osi" x="376.2" y="107.5"/><use href="#osi" x="376.9" y="107.6"/><use href="#osi" x="377.6" y="107.8"/><use href="#osi" x="378.2" y="107.9"/><use href="#osi" x="378.9" y="108.0"/><use href="#osi" x="379.6" y="108.2"/><use href="#osi" x="380.2" y="108.3"/><use href="#osi" x="380.9" y="108.5"/><use href="#osi" x="381.5" y="108.6"/><use href="#osi" x="382.2" y="108.8"/><use href="#osi" x="382.9" y="108.9"/><use href="#osi" x="383.5" y="109.1"/><use href="#osi" x="384.2" y="109.2"/><use href="#osi" x="384.9" y="109.4"/><use href="#osi" x="385.5" y="109.6"/><use href="#osi" x="386.2" y="109.7"/><use href="#osi" x="386.8" y="109.9"/><use href="#osi" x="387.5" y="110.1"/><use href="#osi" x="388.2" y="110.3"/><use href="#osi" x="388.8" y="110.4"/><use href="#osi" x="389.5" y="110.6"/><use href="#osi" x="390.2" y="110.8"/><use href="#osi" x="390.8" y="111.0"/><use href="#osi" x="391.5" y="111.2"/><use href="#osi" x="392.2" y="111.4"/><use href="#osi" x="392.8" y="111.6"/><use href="#osi" x="393.5" y="111.8"/><use href="#osi" x="394.1" y="112.0"/><use href="#osi" x="394.8" y="112.2"/><use href="#osi" x="395.5" y="112.3"/><use href="#osi" x="396.1" y="112.5"/><use href="#osi" x="396.8" y="112.7"/><use href="#osi" x="397.5" y="112.9"/><use href="#osi" x="398.1" y="113.1"/><use href="#osi" x="398.8" y="113.2"/><use href="#osi" x="399.4" y="113.4"/><use href="#osi" x="400.1" y="113.6"/><use href="#osi" x="400.8" y="113.8"/><use href="#osi" x="401.4" y="114.0"/><use href="#osi" x="402.1" y="114.1"/><use href="#osi" x="402.8" y="114.3"/><use href="#osi" x="403.4" y="114.5"/><use href="#osi" x="404.1" y="114.7"/><use href="#osi" x="404.7" y="114.9"/><use href="#osi" x="405.4" y="115.1"/><use href="#osi" x="406.1" y="115.2"/><use href="#osi" x="406.7" y="115.4"/><use href="#osi" x="407.4" y="115.6"/><use href="#osi" x="408.1" y="115.8"/><use href="#osi" x="408.7" y="116.0"/><use href="#osi" x="409.4" y="116.2"/><use href="#osi" x="410.1" y="116.3"/><use href="#osi" x="410.7" y="116.5"/><use href="#osi" x="411.4" y="116.7"/><use href="#osi" x="412.0" y="116.9"/><use href="#osi" x="412.7" y="117.1"/><use href="#osi" x="413.4" y="117.3"/><use href="#osi" x="414.0" y="117.5"/><use href="#osi" x="414.7" y="117.6"/><use href="#osi" x="415.4" y="117.8"/><use href="#osi" x="416.0" y="118.0"/><use href="#osi" x="416.7" y="118.2"/><use href="#osi" x="417.3" y="118.4"/><use href="#osi" x="418.0" y="118.6"/><use href="#osi" x="418.7" y="118.8"/><use href="#osi" x="419.3" y="119.0"/><use href="#osi" x="420.0" y="119.1"/><use href="#osi" x="420.7" y="119.3"/><use href="#osi" x="421.3" y="119.5"/><use href="#osi" x="422.0" y="119.7"/><use href="#osi" x="422.7" y="119.9"/><use href="#osi" x="423.3" y="120.1"/><use href="#osi" x="424.0" y="120.3"/><use href="#osi" x="424.6" y="120.4"/><use href="#osi" x="425.3" y="120.6"/><use href="#osi" x="426.0" y="120.8"/><use href="#osi" x="426.6" y="121.0"/><use href="#osi" x="427.3" y="121.2"/><use href="#osi" x="428.0" y="121.4"/><use href="#osi" x="428.6" y="121.6"/><use href="#osi" x="429.3" y="121.7"/><use href="#osi" x="429.9" y="121.9"/><use href="#osi" x="430.6" y="122.1"/><use href="#osi" x="431.3" y="122.3"/><use href="#osi" x="431.9" y="122.5"/><use href="#osi" x="432.6" y="122.7"/><use href="#osi" x="433.3" y="122.9"/><use href="#osi" x="433.9" y="123.0"/><use href="#osi" x="434.6" y="123.2"/><use href="#osi" x="435.2" y="123.4"/><use href="#osi" x="435.9" y="123.6"/><use href="#osi" x="436.6" y="123.8"/><use href="#osi" x="437.2" y="124.0"/><use href="#osi" x="437.9" y="124.1"/><use href="#osi" x="438.6" y="124.3"/><use href="#osi" x="439.2" y="124.5"/><use href="#osi" x="439.9" y="124.7"/><use href="#osi" x="440.6" y="124.9"/><use href="#osi" x="441.2" y="125.0"/><use href="#osi" x="441.9" y="125.2"/><use href="#osi" x="442.5" y="125.4"/><use href="#osi" x="443.2" y="125.6"/><use href="#osi" x="443.9" y="125.8"/><use href="#osi" x="444.5" y="126.0"/><use href="#osi" x="445.2" y="126.1"/><use href="#osi" x="445.9" y="126.3"/><use href="#osi" x="446.5" y="126.5"/><use href="#osi" x="447.2" y="126.7"/><use href="#osi" x="447.8" y="126.9"/><use href="#osi" x="448.5" y="127.0"/><use href="#osi" x="449.2" y="127.2"/><use href="#osi" x="449.8" y="127.4"/><use href="#osi" x="450.5" y="127.6"/><use href="#osi" x="451.2" y="127.7"/><use href="#osi" x="451.8" y="127.9"/><use href="#osi" x="452.5" y="128.1"/><use href="#osi" x="453.1" y="128.3"/><use href="#osi" x="453.8" y="128.5"/><use href="#osi" x="454.5" y="128.6"/><use href="#osi" x="455.1" y="128.8"/><use href="#osi" x="455.8" y="129.0"/><use href="#osi" x="456.5" y="129.2"/><use href="#osi" x="457.1" y="129.3"/><use href="#osi" x="457.8" y="129.5"/><use href="#osi" x="458.5" y="129.7"/><use href="#osi" x="459.1" y="129.8"/><use href="#osi" x="459.8" y="130.0"/><use href="#osi" x="460.4" y="130.2"/><use href="#osi" x="461.1" y="130.4"/><use href="#osi" x="461.8" y="130.5"/><use href="#osi" x="462.4" y="130.7"/><use href="#osi" x="463.1" y="130.9"/><use href="#osi" x="463.8" y="131.0"/><use href="#osi" x="464.4" y="131.2"/><use href="#osi" x="465.1" y="131.4"/><use href="#osi" x="465.7" y="131.5"/><use href="#osi" x="466.4" y="131.7"/><use href="#osi" x="467.1" y="131.9"/><use href="#osi" x="467.7" y="132.0"/><use href="#osi" x="468.4" y="132.2"/><use href="#osi" x="469.1" y="132.3"/><use href="#osi" x="469.7" y="132.5"/><use href="#osi" x="470.4" y="132.7"/><use href="#osi" x="471.0" y="132.8"/><use href="#osi" x="471.7" y="133.0"/><use href="#osi" x="472.4" y="133.2"/><use href="#osi" x="473.0" y="133.3"/><use href="#osi" x="473.7" y="133.5"/><use href="#osi" x="474.4" y="133.6"/><use href="#osi" x="475.0" y="133.8"/><use href="#osi" x="475.7" y="134.0"/><use href="#osi" x="476.4" y="134.1"/><use href="#osi" x="477.0" y="134.3"/><use href="#osi" x="477.7" y="134.4"/><use href="#osi" x="478.3" y="134.6"/><use href="#osi" x="479.0" y="134.7"/><use href="#osi" x="479.7" y="134.9"/><use href="#osi" x="480.3" y="135.0"/><use href="#osi" x="481.0" y="135.2"/><use href="#osi" x="481.7" y="135.3"/><use href="#osi" x="482.3" y="135.5"/><use href="#osi" x="483.0" y="135.6"/><use href="#osi" x="483.6" y="135.8"/><use href="#osi" x="484.3" y="135.9"/><use href="#osi" x="485.0" y="136.1"/><use href="#osi" x="485.6" y="136.2"/><use href="#osi" x="486.3" y="136.4"/><use href="#osi" x="487.0" y="136.5"/><use href="#osi" x="487.6" y="136.6"/><use href="#osi" x="488.3" y="136.8"/><use href="#osi" x="489.0" y="136.9"/><use href="#osi" x="489.6" y="137.1"/><use href="#osi" x="490.3" y="137.2"/><use href="#osi" x="490.9" y="137.3"/><use href="#osi" x="491.6" y="137.5"/><use href="#osi" x="492.3" y="137.6"/><use href="#osi" x="492.9" y="137.8"/><use href="#osi" x="493.6" y="137.9"/><use href="#osi" x="494.3" y="138.0"/><use href="#osi" x="494.9" y="138.2"/><use href="#osi" x="495.6" y="138.3"/><use href="#osi" x="496.2" y="138.4"/><use href="#osi" x="496.9" y="138.6"/><use href="#osi" x="497.6" y="138.7"/><use href="#osi" x="498.2" y="138.8"/><use href="#osi" x="498.9" y="139.0"/><use href="#osi" x="499.6" y="139.1"/><use href="#osi" x="500.2" y="139.2"/><use href="#osi" x="500.9" y="139.3"/><use href="#osi" x="501.5" y="139.4"/><use href="#osi" x="502.2" y="139.6"/><use href="#osi" x="502.9" y="139.7"/><use href="#osi" x="503.5" y="139.8"/><use href="#osi" x="504.2" y="139.9"/><use href="#osi" x="504.9" y="140.0"/><use href="#osi" x="505.5" y="140.1"/><use href="#osi" x="506.2" y="140.2"/><use href="#osi" x="506.9" y="140.4"/><use href="#osi" x="507.5" y="140.5"/><use href="#osi" x="508.2" y="140.6"/><use href="#osi" x="508.8" y="140.7"/><use href="#osi" x="509.5" y="140.8"/><use href="#osi" x="510.2" y="140.9"/><use href="#osi" x="510.8" y="141.0"/><use href="#osi" x="511.5" y="141.1"/><use href="#osi" x="512.2" y="141.2"/><use href="#osi" x="512.8" y="141.3"/><use href="#osi" x="513.5" y="141.4"/><use href="#osi" x="514.1" y="141.5"/><use href="#osi" x="514.8" y="141.6"/><use href="#osi" x="515.5" y="141.7"/><use href="#osi" x="516.1" y="141.8"/><use href="#osi" x="516.8" y="141.9"/><use href="#osi" x="517.5" y="142.0"/><use href="#osi" x="518.1" y="142.1"/><use href="#osi" x="518.8" y="142.2"/><use href="#osi" x="519.4" y="142.3"/><use href="#osi" x="520.1" y="142.4"/><use href="#osi" x="520.8" y="142.5"/><use href="#osi" x="521.4" y="142.5"/><use href="#osi" x="522.1" y="142.6"/><use href="#osi" x="522.8" y="142.7"/><use href="#osi" x="523.4" y="142.8"/><use href="#osi" x="524.1" y="142.9"/><use href="#osi" x="524.8" y="143.0"/><use href="#osi" x="525.4" y="143.0"/><use href="#osi" x="526.1" y="143.1"/><use href="#osi" x="526.7" y="143.2"/><use href="#osi" x="527.4" y="143.2"/><use href="#osi" x="528.1" y="143.3"/><use href="#osi" x="528.7" y="143.4"/><use href="#osi" x="529.4" y="143.4"/><use href="#osi" x="530.1" y="143.5"/><use href="#osi" x="530.7" y="143.6"/><use href="#osi" x="531.4" y="143.6"/><use href="#osi" x="532.0" y="143.7"/><use href="#osi" x="532.7" y="143.8"/><use href="#osi" x="533.4" y="143.8"/><use href="#osi" x="534.0" y="143.9"/><use href="#osi" x="534.7" y="144.0"/><use href="#osi" x="535.4" y="144.0"/><use href="#osi" x="536.0" y="144.1"/><use href="#osi" x="536.7" y="144.1"/><use href="#osi" x="537.3" y="144.2"/><use href="#osi" x="538.0" y="144.3"/><use href="#osi" x="538.7" y="144.3"/><use href="#osi" x="539.3" y="144.4"/><use href="#osi" x="540.0" y="144.4"/><use href="#osi" x="540.7" y="144.5"/><use href="#osi" x="541.3" y="144.5"/><use href="#osi" x="542.0" y="144.6"/><use href="#osi" x="542.7" y="144.7"/><use href="#osi" x="543.3" y="144.7"/><use href="#osi" x="544.0" y="144.8"/><use href="#osi" x="544.6" y="144.8"/><use href="#osi" x="545.3" y="144.8"/><use href="#osi" x="546.0" y="144.9"/><use href="#osi" x="546.6" y="144.9"/><use href="#osi" x="547.3" y="145.0"/><use href="#osi" x="548.0" y="145.0"/><use href="#osi" x="548.6" y="145.1"/><use href="#osi" x="549.3" y="145.1"/><use href="#osi" x="549.9" y="145.2"/><use href="#osi" x="550.6" y="145.2"/><use href="#osi" x="551.3" y="145.2"/><use href="#osi" x="551.9" y="145.3"/><use href="#osi" x="552.6" y="145.3"/>
</g>
<path class="dash" d="M363.4 41.6V174.8"/>
<path class="ln" d="M353.5 15.4H566V174.8H353.5ZM419.8 174.8v-6.5M419.8 15.4v6.5M486.1 174.8v-6.5M486.1 15.4v6.5M552.4 174.8v-6.5M552.4 15.4v6.5M366.8 174.8v-3.5M366.8 15.4v3.5M380 174.8v-3.5M380 15.4v3.5M393.3 174.8v-3.5M393.3 15.4v3.5M406.5 174.8v-3.5M406.5 15.4v3.5M433.1 174.8v-3.5M433.1 15.4v3.5M446.3 174.8v-3.5M446.3 15.4v3.5M459.6 174.8v-3.5M459.6 15.4v3.5M472.8 174.8v-3.5M472.8 15.4v3.5M499.4 174.8v-3.5M499.4 15.4v3.5M512.6 174.8v-3.5M512.6 15.4v3.5M525.9 174.8v-3.5M525.9 15.4v3.5M539.1 174.8v-3.5M539.1 15.4v3.5M353.5 128.6h6.5M566 128.6h-6.5M353.5 82.4h6.5M566 82.4h-6.5M353.5 36.2h6.5M566 36.2h-6.5M353.5 151.7h3.5M566 151.7h-3.5M353.5 105.5h3.5M566 105.5h-3.5M353.5 59.3h3.5M566 59.3h-3.5"/>
<text class="t" x="345.4" y="180.4" text-anchor="end">0.00</text>
<text class="t" x="345.4" y="134.2" text-anchor="end">0.02</text>
<text class="t" x="345.4" y="88.0" text-anchor="end">0.04</text>
<text class="t" x="345.4" y="41.8" text-anchor="end">0.06</text>
<text class="t" x="353.5" y="195.4" text-anchor="middle">0</text>
<text class="t" x="419.8" y="195.4" text-anchor="middle">100</text>
<text class="t" x="486.1" y="195.4" text-anchor="middle">200</text>
<text class="t" x="552.4" y="195.4" text-anchor="middle">300</text>
<text class="t g" x="359.4" y="40.4">T<tspan font-size="11.3" dx="2.6" dy="6.4">N</tspan></text>
<path class="dash" d="M228.6 434.6V532.5"/>
<g clip-path="url(#cb)">
<use href="#k1" x="95.7" y="398.1"/><use href="#k1" x="98.2" y="395.7"/><use href="#k1" x="100.7" y="393.2"/><use href="#k1" x="103.2" y="390.3"/><use href="#k1" x="105.8" y="386.0"/><use href="#k1" x="108.3" y="382.9"/><use href="#k1" x="110.8" y="380.2"/><use href="#k1" x="113.3" y="378.2"/><use href="#k1" x="115.8" y="377.7"/><use href="#k1" x="118.4" y="378.3"/><use href="#k1" x="120.9" y="379.3"/><use href="#k1" x="123.4" y="381.8"/><use href="#k1" x="125.9" y="385.3"/><use href="#k1" x="128.5" y="388.6"/><use href="#k1" x="131.0" y="390.7"/><use href="#k1" x="133.5" y="392.7"/><use href="#k1" x="136.0" y="395.6"/><use href="#k1" x="138.5" y="397.4"/><use href="#k1" x="141.1" y="400.1"/><use href="#k1" x="143.6" y="401.9"/><use href="#k1" x="146.1" y="404.0"/><use href="#k1" x="148.6" y="405.1"/><use href="#k1" x="151.2" y="407.1"/><use href="#k1" x="153.7" y="408.1"/><use href="#k1" x="156.2" y="409.3"/><use href="#k1" x="158.7" y="410.3"/><use href="#k1" x="161.2" y="411.9"/><use href="#k1" x="163.8" y="411.9"/><use href="#k1" x="166.3" y="412.3"/><use href="#k1" x="168.8" y="412.9"/><use href="#k1" x="171.3" y="414.0"/><use href="#k1" x="173.9" y="414.1"/><use href="#k1" x="176.4" y="414.4"/><use href="#k1" x="178.9" y="414.4"/><use href="#k1" x="181.4" y="413.7"/><use href="#k1" x="183.9" y="414.4"/><use href="#k1" x="186.5" y="414.1"/><use href="#k1" x="189.0" y="413.9"/><use href="#k1" x="191.5" y="414.6"/><use href="#k1" x="194.0" y="416.1"/><use href="#k1" x="196.6" y="418.6"/><use href="#k1" x="199.1" y="421.5"/><use href="#k1" x="203.1" y="428.9"/><use href="#k1" x="207.2" y="437.6"/><use href="#k1" x="211.2" y="446.4"/><use href="#k1" x="215.2" y="456.8"/><use href="#k1" x="219.3" y="464.8"/><use href="#k1" x="223.3" y="473.4"/><use href="#k1" x="227.3" y="481.4"/><use href="#k1" x="231.4" y="487.5"/><use href="#k1" x="232.9" y="490.3"/><use href="#k1" x="235.9" y="495.4"/><use href="#k1" x="238.9" y="498.8"/><use href="#k1" x="242.0" y="500.8"/><use href="#k1" x="245.0" y="502.7"/><use href="#k1" x="248.0" y="503.7"/><use href="#k1" x="251.0" y="505.2"/><use href="#k1" x="254.1" y="506.1"/><use href="#k1" x="257.1" y="506.8"/><use href="#k1" x="260.1" y="508.4"/><use href="#k1" x="263.2" y="508.7"/><use href="#k1" x="266.2" y="509.5"/><use href="#k1" x="269.2" y="509.7"/><use href="#k1" x="272.2" y="510.6"/><use href="#k1" x="275.3" y="510.7"/><use href="#k1" x="283.3" y="513.5"/><use href="#k1" x="304.5" y="513.3"/><use href="#k1" x="319.7" y="513.6"/><use href="#k1" x="334.8" y="514.9"/><use href="#k1" x="349.9" y="515.2"/><use href="#k1" x="365.1" y="515.2"/><use href="#k1" x="380.2" y="516.5"/>
<use href="#k2" x="95.7" y="400.3"/><use href="#k2" x="98.2" y="398.4"/><use href="#k2" x="100.7" y="395.8"/><use href="#k2" x="103.2" y="393.5"/><use href="#k2" x="105.8" y="390.6"/><use href="#k2" x="108.3" y="387.7"/><use href="#k2" x="110.8" y="385.6"/><use href="#k2" x="113.3" y="383.3"/><use href="#k2" x="115.8" y="382.6"/><use href="#k2" x="118.4" y="382.5"/><use href="#k2" x="120.9" y="383.0"/><use href="#k2" x="123.4" y="384.7"/><use href="#k2" x="125.9" y="387.2"/><use href="#k2" x="128.5" y="389.9"/><use href="#k2" x="131.0" y="391.7"/><use href="#k2" x="133.5" y="394.1"/><use href="#k2" x="136.0" y="395.6"/><use href="#k2" x="138.5" y="397.9"/><use href="#k2" x="141.1" y="400.3"/><use href="#k2" x="143.6" y="402.0"/><use href="#k2" x="146.1" y="404.2"/><use href="#k2" x="148.6" y="405.5"/><use href="#k2" x="151.2" y="407.6"/><use href="#k2" x="153.7" y="408.9"/><use href="#k2" x="156.2" y="410.8"/><use href="#k2" x="158.7" y="411.1"/><use href="#k2" x="161.2" y="412.6"/><use href="#k2" x="163.8" y="413.4"/><use href="#k2" x="166.3" y="413.3"/><use href="#k2" x="168.8" y="413.2"/><use href="#k2" x="171.3" y="413.4"/><use href="#k2" x="173.9" y="413.1"/><use href="#k2" x="176.4" y="414.4"/><use href="#k2" x="178.9" y="414.3"/><use href="#k2" x="181.4" y="414.0"/><use href="#k2" x="183.9" y="413.9"/><use href="#k2" x="186.5" y="414.2"/><use href="#k2" x="189.0" y="414.2"/><use href="#k2" x="191.5" y="414.1"/><use href="#k2" x="194.0" y="415.9"/><use href="#k2" x="196.6" y="419.0"/><use href="#k2" x="199.1" y="421.5"/><use href="#k2" x="203.1" y="428.4"/><use href="#k2" x="207.2" y="438.0"/><use href="#k2" x="211.2" y="446.8"/><use href="#k2" x="215.2" y="456.6"/><use href="#k2" x="219.3" y="464.8"/><use href="#k2" x="223.3" y="473.3"/><use href="#k2" x="227.3" y="481.1"/><use href="#k2" x="231.4" y="488.4"/><use href="#k2" x="232.9" y="490.6"/><use href="#k2" x="235.9" y="495.7"/><use href="#k2" x="238.9" y="499.2"/><use href="#k2" x="242.0" y="500.9"/><use href="#k2" x="245.0" y="503.4"/><use href="#k2" x="248.0" y="503.6"/><use href="#k2" x="251.0" y="505.8"/><use href="#k2" x="254.1" y="506.1"/><use href="#k2" x="257.1" y="507.6"/><use href="#k2" x="260.1" y="507.8"/><use href="#k2" x="263.2" y="508.7"/><use href="#k2" x="266.2" y="509.8"/><use href="#k2" x="269.2" y="509.3"/><use href="#k2" x="272.2" y="509.7"/><use href="#k2" x="275.3" y="510.5"/><use href="#k2" x="283.3" y="513.5"/><use href="#k2" x="304.5" y="513.7"/><use href="#k2" x="319.7" y="514.4"/><use href="#k2" x="334.8" y="514.1"/><use href="#k2" x="349.9" y="515.1"/><use href="#k2" x="365.1" y="515.4"/><use href="#k2" x="380.2" y="516.1"/>
<use href="#k3" x="95.7" y="402.4"/><use href="#k3" x="98.2" y="401.5"/><use href="#k3" x="100.7" y="399.1"/><use href="#k3" x="103.2" y="397.8"/><use href="#k3" x="105.8" y="394.9"/><use href="#k3" x="108.3" y="392.8"/><use href="#k3" x="110.8" y="391.1"/><use href="#k3" x="113.3" y="389.3"/><use href="#k3" x="115.8" y="387.8"/><use href="#k3" x="118.4" y="387.0"/><use href="#k3" x="120.9" y="387.0"/><use href="#k3" x="123.4" y="387.5"/><use href="#k3" x="125.9" y="389.5"/><use href="#k3" x="128.5" y="391.1"/><use href="#k3" x="131.0" y="392.2"/><use href="#k3" x="133.5" y="395.2"/><use href="#k3" x="136.0" y="397.4"/><use href="#k3" x="138.5" y="399.0"/><use href="#k3" x="141.1" y="400.6"/><use href="#k3" x="143.6" y="403.6"/><use href="#k3" x="146.1" y="405.0"/><use href="#k3" x="148.6" y="406.9"/><use href="#k3" x="151.2" y="409.1"/><use href="#k3" x="153.7" y="409.8"/><use href="#k3" x="156.2" y="411.3"/><use href="#k3" x="158.7" y="412.2"/><use href="#k3" x="161.2" y="413.3"/><use href="#k3" x="163.8" y="413.5"/><use href="#k3" x="166.3" y="414.3"/><use href="#k3" x="168.8" y="414.1"/><use href="#k3" x="171.3" y="415.0"/><use href="#k3" x="173.9" y="415.5"/><use href="#k3" x="176.4" y="414.8"/><use href="#k3" x="178.9" y="415.5"/><use href="#k3" x="181.4" y="415.2"/><use href="#k3" x="183.9" y="415.3"/><use href="#k3" x="186.5" y="415.4"/><use href="#k3" x="189.0" y="415.5"/><use href="#k3" x="191.5" y="415.3"/><use href="#k3" x="194.0" y="417.4"/><use href="#k3" x="196.6" y="419.8"/><use href="#k3" x="199.1" y="422.7"/><use href="#k3" x="203.1" y="429.2"/><use href="#k3" x="207.2" y="438.5"/><use href="#k3" x="211.2" y="447.9"/><use href="#k3" x="215.2" y="457.7"/><use href="#k3" x="219.3" y="466.8"/><use href="#k3" x="223.3" y="474.2"/><use href="#k3" x="227.3" y="482.0"/><use href="#k3" x="231.4" y="489.4"/><use href="#k3" x="232.9" y="491.5"/><use href="#k3" x="235.9" y="495.9"/><use href="#k3" x="238.9" y="499.7"/><use href="#k3" x="242.0" y="501.9"/><use href="#k3" x="245.0" y="504.0"/><use href="#k3" x="248.0" y="504.6"/><use href="#k3" x="251.0" y="506.8"/><use href="#k3" x="254.1" y="507.2"/><use href="#k3" x="257.1" y="508.3"/><use href="#k3" x="260.1" y="509.0"/><use href="#k3" x="263.2" y="509.3"/><use href="#k3" x="266.2" y="510.0"/><use href="#k3" x="269.2" y="511.4"/><use href="#k3" x="272.2" y="511.9"/><use href="#k3" x="275.3" y="511.4"/><use href="#k3" x="283.3" y="514.9"/><use href="#k3" x="304.5" y="514.8"/><use href="#k3" x="319.7" y="514.9"/><use href="#k3" x="334.8" y="516.2"/><use href="#k3" x="349.9" y="516.8"/><use href="#k3" x="365.1" y="516.5"/><use href="#k3" x="380.2" y="517.0"/>
<use href="#k4" x="95.7" y="404.2"/><use href="#k4" x="98.2" y="403.6"/><use href="#k4" x="100.7" y="403.0"/><use href="#k4" x="103.2" y="402.1"/><use href="#k4" x="105.8" y="399.9"/><use href="#k4" x="108.3" y="398.3"/><use href="#k4" x="110.8" y="396.7"/><use href="#k4" x="113.3" y="394.2"/><use href="#k4" x="115.8" y="392.6"/><use href="#k4" x="118.4" y="391.2"/><use href="#k4" x="120.9" y="390.8"/><use href="#k4" x="123.4" y="390.3"/><use href="#k4" x="125.9" y="391.2"/><use href="#k4" x="128.5" y="392.4"/><use href="#k4" x="131.0" y="393.7"/><use href="#k4" x="133.5" y="396.2"/><use href="#k4" x="136.0" y="397.9"/><use href="#k4" x="138.5" y="399.9"/><use href="#k4" x="141.1" y="401.2"/><use href="#k4" x="143.6" y="404.3"/><use href="#k4" x="146.1" y="405.4"/><use href="#k4" x="148.6" y="407.5"/><use href="#k4" x="151.2" y="409.3"/><use href="#k4" x="153.7" y="411.5"/><use href="#k4" x="156.2" y="412.4"/><use href="#k4" x="158.7" y="412.9"/><use href="#k4" x="161.2" y="414.0"/><use href="#k4" x="163.8" y="414.6"/><use href="#k4" x="166.3" y="415.1"/><use href="#k4" x="168.8" y="415.1"/><use href="#k4" x="171.3" y="416.1"/><use href="#k4" x="173.9" y="417.3"/><use href="#k4" x="176.4" y="417.0"/><use href="#k4" x="178.9" y="417.4"/><use href="#k4" x="181.4" y="417.9"/><use href="#k4" x="183.9" y="416.9"/><use href="#k4" x="186.5" y="416.3"/><use href="#k4" x="189.0" y="416.8"/><use href="#k4" x="191.5" y="417.4"/><use href="#k4" x="194.0" y="419.0"/><use href="#k4" x="196.6" y="420.8"/><use href="#k4" x="199.1" y="424.1"/><use href="#k4" x="203.1" y="431.1"/><use href="#k4" x="207.2" y="440.3"/><use href="#k4" x="211.2" y="449.5"/><use href="#k4" x="215.2" y="458.7"/><use href="#k4" x="219.3" y="467.6"/><use href="#k4" x="223.3" y="476.0"/><use href="#k4" x="227.3" y="484.1"/><use href="#k4" x="231.4" y="490.6"/><use href="#k4" x="232.9" y="493.4"/><use href="#k4" x="235.9" y="497.2"/><use href="#k4" x="238.9" y="501.9"/><use href="#k4" x="242.0" y="503.7"/><use href="#k4" x="245.0" y="505.3"/><use href="#k4" x="248.0" y="507.1"/><use href="#k4" x="251.0" y="507.2"/><use href="#k4" x="254.1" y="508.5"/><use href="#k4" x="257.1" y="510.1"/><use href="#k4" x="260.1" y="510.5"/><use href="#k4" x="263.2" y="511.3"/><use href="#k4" x="266.2" y="512.9"/><use href="#k4" x="269.2" y="512.3"/><use href="#k4" x="272.2" y="512.8"/><use href="#k4" x="275.3" y="513.1"/><use href="#k4" x="283.3" y="516.4"/><use href="#k4" x="304.5" y="516.4"/><use href="#k4" x="319.7" y="516.7"/><use href="#k4" x="334.8" y="516.7"/><use href="#k4" x="349.9" y="517.4"/><use href="#k4" x="365.1" y="518.0"/><use href="#k4" x="380.2" y="517.9"/>
</g>
<path d="M109.7 354.3L123.7 402.5" stroke="#fcaf4e" stroke-width="2.5" fill="none"/><polygon points="127.2,414.5 118.4,401.9 127.9,399.2" fill="#fcaf4e"/>
<path class="ln" d="M77.5 274.6H582V532.5H77.5ZM178.4 532.5v-7M178.4 274.6v7M279.3 532.5v-7M279.3 274.6v7M380.2 532.5v-7M380.2 274.6v7M481.1 532.5v-7M481.1 274.6v7M97.7 532.5v-4M97.7 274.6v4M117.9 532.5v-4M117.9 274.6v4M138 532.5v-4M138 274.6v4M158.2 532.5v-4M158.2 274.6v4M198.6 532.5v-4M198.6 274.6v4M218.8 532.5v-4M218.8 274.6v4M238.9 532.5v-4M238.9 274.6v4M259.1 532.5v-4M259.1 274.6v4M299.5 532.5v-4M299.5 274.6v4M319.7 532.5v-4M319.7 274.6v4M339.8 532.5v-4M339.8 274.6v4M360 532.5v-4M360 274.6v4M400.4 532.5v-4M400.4 274.6v4M420.6 532.5v-4M420.6 274.6v4M440.7 532.5v-4M440.7 274.6v4M460.9 532.5v-4M460.9 274.6v4M501.3 532.5v-4M501.3 274.6v4M521.5 532.5v-4M521.5 274.6v4M541.6 532.5v-4M541.6 274.6v4M561.8 532.5v-4M561.8 274.6v4M77.5 503.2h7M582 503.2h-7M77.5 444.6h7M582 444.6h-7M77.5 386h7M582 386h-7M77.5 327.4h7M582 327.4h-7M77.5 473.9h4M582 473.9h-4M77.5 415.3h4M582 415.3h-4M77.5 356.7h4M582 356.7h-4M77.5 298h4M582 298h-4"/>
<text class="t" x="70" y="508.8" text-anchor="end">0.03</text>
<text class="t" x="70" y="450.2" text-anchor="end">0.04</text>
<text class="t" x="70" y="391.6" text-anchor="end">0.05</text>
<text class="t" x="70" y="333.0" text-anchor="end">0.06</text>
<text class="yt" transform="translate(21.3 397.7) rotate(-90)" text-anchor="middle"><tspan font-family="'Liberation Serif', serif" font-style="italic" font-size="21">χ</tspan>' (cm<tspan font-size="12" dy="-9.2">3</tspan><tspan dy="9.2">/(mol Cu))</tspan></text>
<text class="t" x="85.2" y="300.6" style="font-size:20px">(b)</text>
<text class="t g" x="218" y="423.2">T<tspan font-size="11.3" dx="2.6" dy="6.4">N</tspan></text>
<use href="#k1" x="112.1" y="441.1"/><text class="t" x="133.3" y="447.4">1 Hz</text>
<use href="#k2" x="112.1" y="463.9"/><text class="t" x="133.3" y="469.6">10 Hz</text>
<use href="#k3" x="112.1" y="484.9"/><text class="t" x="133.3" y="491.8">100 Hz</text>
<use href="#k4" x="112.1" y="507.7"/><text class="t" x="133.3" y="514.0">1000 Hz</text>
<g clip-path="url(#cib)">
<use href="#i4" x="382.7" y="388.5"/><use href="#i4" x="387.5" y="382.9"/><use href="#i4" x="390.1" y="365.7"/><use href="#i4" x="395.7" y="361.3"/><use href="#i4" x="399.8" y="341.6"/><use href="#i4" x="403.8" y="325.2"/><use href="#i4" x="408.5" y="337.2"/><use href="#i4" x="413.0" y="321.5"/><use href="#i4" x="416.7" y="355.3"/><use href="#i4" x="420.5" y="345.9"/><use href="#i4" x="425.3" y="393.7"/><use href="#i4" x="429.0" y="422.2"/><use href="#i4" x="433.0" y="406.2"/><use href="#i4" x="437.8" y="408.5"/><use href="#i4" x="442.0" y="410.0"/><use href="#i4" x="446.1" y="391.3"/><use href="#i4" x="450.3" y="429.6"/><use href="#i4" x="454.8" y="398.1"/><use href="#i4" x="459.2" y="418.1"/><use href="#i4" x="463.9" y="401.1"/><use href="#i4" x="467.8" y="411.1"/><use href="#i4" x="471.9" y="437.3"/><use href="#i4" x="475.9" y="422.2"/><use href="#i4" x="480.4" y="429.2"/><use href="#i4" x="486.8" y="427.2"/><use href="#i4" x="490.5" y="428.2"/><use href="#i4" x="493.5" y="410.1"/><use href="#i4" x="497.7" y="438.6"/><use href="#i4" x="502.0" y="403.0"/><use href="#i4" x="505.9" y="423.2"/><use href="#i4" x="510.5" y="403.0"/><use href="#i4" x="514.6" y="412.1"/><use href="#i4" x="521.0" y="418.1"/><use href="#i4" x="527.3" y="423.2"/><use href="#i4" x="531.6" y="417.2"/><use href="#i4" x="536.0" y="400.5"/><use href="#i4" x="539.9" y="415.2"/><use href="#i4" x="544.3" y="408.2"/><use href="#i4" x="548.6" y="395.6"/><use href="#i4" x="553.0" y="402.2"/><use href="#i4" x="557.1" y="414.2"/><use href="#i4" x="561.0" y="423.8"/><use href="#i4" x="564.0" y="422.2"/><use href="#i4" x="567.4" y="411.7"/>
<use href="#i3" x="380.1" y="419.4"/><use href="#i3" x="384.7" y="399.7"/><use href="#i3" x="388.9" y="407.3"/><use href="#i3" x="392.7" y="362.2"/><use href="#i3" x="397.0" y="362.2"/><use href="#i3" x="401.2" y="350.0"/><use href="#i3" x="405.8" y="362.2"/><use href="#i3" x="409.7" y="345.3"/><use href="#i3" x="413.9" y="384.4"/><use href="#i3" x="418.0" y="394.7"/><use href="#i3" x="422.4" y="425.0"/><use href="#i3" x="426.5" y="412.9"/><use href="#i3" x="430.7" y="428.4"/><use href="#i3" x="434.8" y="423.2"/><use href="#i3" x="439.2" y="417.6"/><use href="#i3" x="443.2" y="425.0"/><use href="#i3" x="447.6" y="439.9"/><use href="#i3" x="451.7" y="437.3"/><use href="#i3" x="456.1" y="441.1"/><use href="#i3" x="458.8" y="434.2"/><use href="#i3" x="463.9" y="434.2"/><use href="#i3" x="468.8" y="434.2"/><use href="#i3" x="473.9" y="437.3"/><use href="#i3" x="477.9" y="442.4"/><use href="#i3" x="481.9" y="423.2"/><use href="#i3" x="486.4" y="441.8"/><use href="#i3" x="490.9" y="435.3"/><use href="#i3" x="494.9" y="443.0"/><use href="#i3" x="498.9" y="437.3"/><use href="#i3" x="503.4" y="442.4"/><use href="#i3" x="507.6" y="441.1"/><use href="#i3" x="511.9" y="435.3"/><use href="#i3" x="516.0" y="418.1"/><use href="#i3" x="520.0" y="423.2"/><use href="#i3" x="523.5" y="430.3"/><use href="#i3" x="527.8" y="442.4"/><use href="#i3" x="532.0" y="441.8"/><use href="#i3" x="536.2" y="441.1"/><use href="#i3" x="540.5" y="443.0"/><use href="#i3" x="545.6" y="428.2"/><use href="#i3" x="550.0" y="442.4"/><use href="#i3" x="554.4" y="432.2"/><use href="#i3" x="558.6" y="442.4"/><use href="#i3" x="563.0" y="430.3"/><use href="#i3" x="566.7" y="433.5"/>
<use href="#i2" x="380.1" y="418.5"/><use href="#i2" x="385.2" y="411.9"/><use href="#i2" x="388.5" y="397.3"/><use href="#i2" x="392.7" y="376.3"/><use href="#i2" x="397.0" y="365.0"/><use href="#i2" x="401.7" y="364.7"/><use href="#i2" x="405.8" y="377.2"/><use href="#i2" x="409.7" y="396.0"/><use href="#i2" x="413.9" y="413.8"/><use href="#i2" x="418.0" y="426.6"/><use href="#i2" x="422.4" y="429.8"/><use href="#i2" x="426.5" y="435.4"/><use href="#i2" x="430.7" y="440.1"/><use href="#i2" x="434.8" y="441.8"/><use href="#i2" x="439.2" y="442.4"/><use href="#i2" x="443.2" y="440.9"/><use href="#i2" x="447.6" y="443.7"/><use href="#i2" x="451.7" y="442.4"/><use href="#i2" x="456.1" y="444.3"/><use href="#i2" x="460.2" y="443.0"/><use href="#i2" x="465.0" y="444.2"/><use href="#i2" x="469.2" y="444.2"/><use href="#i2" x="473.3" y="443.4"/><use href="#i2" x="477.5" y="447.4"/><use href="#i2" x="481.7" y="444.2"/><use href="#i2" x="485.9" y="445.7"/><use href="#i2" x="490.1" y="441.7"/><use href="#i2" x="494.2" y="445.5"/><use href="#i2" x="498.4" y="442.4"/><use href="#i2" x="502.6" y="440.2"/><use href="#i2" x="506.8" y="444.4"/><use href="#i2" x="511.0" y="445.1"/><use href="#i2" x="515.1" y="443.2"/><use href="#i2" x="519.3" y="443.7"/><use href="#i2" x="523.5" y="446.0"/><use href="#i2" x="527.7" y="442.6"/><use href="#i2" x="531.9" y="439.1"/><use href="#i2" x="536.0" y="444.3"/><use href="#i2" x="540.2" y="444.2"/><use href="#i2" x="544.4" y="446.1"/><use href="#i2" x="548.6" y="443.0"/><use href="#i2" x="552.8" y="446.6"/><use href="#i2" x="556.9" y="446.2"/><use href="#i2" x="561.1" y="440.7"/><use href="#i2" x="565.3" y="445.8"/>
<use href="#i1" x="380.1" y="416.6"/><use href="#i1" x="385.2" y="403.4"/><use href="#i1" x="388.5" y="385.3"/><use href="#i1" x="392.7" y="374.8"/><use href="#i1" x="397.0" y="369.7"/><use href="#i1" x="401.7" y="381.3"/><use href="#i1" x="405.8" y="400.6"/><use href="#i1" x="409.7" y="415.3"/><use href="#i1" x="413.9" y="428.5"/><use href="#i1" x="418.0" y="431.7"/><use href="#i1" x="422.4" y="435.4"/><use href="#i1" x="426.5" y="436.7"/><use href="#i1" x="430.7" y="439.1"/><use href="#i1" x="434.8" y="438.2"/><use href="#i1" x="439.2" y="434.1"/><use href="#i1" x="443.2" y="441.0"/><use href="#i1" x="447.6" y="442.9"/><use href="#i1" x="451.7" y="444.2"/><use href="#i1" x="456.1" y="443.4"/><use href="#i1" x="460.2" y="444.8"/><use href="#i1" x="464.4" y="445.6"/><use href="#i1" x="468.6" y="445.3"/><use href="#i1" x="472.8" y="447.8"/><use href="#i1" x="477.0" y="441.8"/><use href="#i1" x="481.1" y="442.9"/><use href="#i1" x="485.3" y="442.9"/><use href="#i1" x="489.5" y="443.4"/><use href="#i1" x="493.7" y="444.4"/><use href="#i1" x="497.9" y="444.2"/><use href="#i1" x="502.0" y="445.0"/><use href="#i1" x="506.2" y="444.9"/><use href="#i1" x="510.4" y="444.5"/><use href="#i1" x="514.6" y="441.9"/><use href="#i1" x="518.8" y="443.6"/><use href="#i1" x="522.9" y="444.7"/><use href="#i1" x="527.1" y="445.6"/><use href="#i1" x="531.3" y="445.7"/><use href="#i1" x="535.5" y="441.7"/><use href="#i1" x="539.6" y="443.7"/><use href="#i1" x="543.8" y="444.5"/><use href="#i1" x="548.0" y="445.2"/><use href="#i1" x="552.2" y="446.6"/><use href="#i1" x="556.4" y="444.7"/><use href="#i1" x="560.5" y="443.0"/><use href="#i1" x="564.7" y="445.3"/>
</g>
<path d="M393.4 389.9L412.3 317.2" stroke="#fcaf4e" stroke-width="2.5" fill="none"/><polygon points="415.4,305.1 416.5,320.4 407.0,317.9" fill="#fcaf4e"/>
<path class="ln" d="M353.5 290H566V448.8H353.5ZM424.3 448.8v-6.5M424.3 290v6.5M495.2 448.8v-6.5M495.2 290v6.5M367.7 448.8v-3.5M367.7 290v3.5M381.8 448.8v-3.5M381.8 290v3.5M396 448.8v-3.5M396 290v3.5M410.2 448.8v-3.5M410.2 290v3.5M438.5 448.8v-3.5M438.5 290v3.5M452.7 448.8v-3.5M452.7 290v3.5M466.8 448.8v-3.5M466.8 290v3.5M481 448.8v-3.5M481 290v3.5M509.3 448.8v-3.5M509.3 290v3.5M523.5 448.8v-3.5M523.5 290v3.5M537.7 448.8v-3.5M537.7 290v3.5M551.8 448.8v-3.5M551.8 290v3.5M353.5 384.9h6.5M566 384.9h-6.5M353.5 321h6.5M566 321h-6.5M353.5 416.9h3.5M566 416.9h-3.5M353.5 353h3.5M566 353h-3.5"/>
<text class="t" x="346.3" y="328.7" text-anchor="end">1.0x10<tspan font-size="10.5" dy="-8.8">-3</tspan></text>
<text class="t" x="346.3" y="392.6" text-anchor="end">5.0x10<tspan font-size="10.5" dy="-8.8">-4</tspan></text>
<text class="t" x="346.3" y="454.3" text-anchor="end">0.0</text>
<text class="t" x="353.5" y="469.4" text-anchor="middle">0</text>
<text class="t" x="424.3" y="469.4" text-anchor="middle">5</text>
<text class="t" x="495.2" y="469.4" text-anchor="middle">10</text>
<text class="t" x="566.0" y="469.4" text-anchor="middle">15</text>
<text class="yt" transform="translate(269.3 377.8) rotate(-90)" text-anchor="middle"><tspan font-family="'Liberation Serif', serif" font-style="italic" font-size="21">χ</tspan>'' (cm<tspan font-size="12" dy="-9.2">3</tspan><tspan dy="9.2">/(mol Cu))</tspan></text>
<path class="dash" d="M228.6 655.6V802.6"/>
<g clip-path="url(#cc)">
<use href="#hx" x="104.0" y="793.0"/><use href="#hx" x="105.6" y="792.8"/><use href="#hx" x="107.1" y="792.6"/><use href="#hx" x="108.6" y="792.3"/><use href="#hx" x="110.1" y="792.0"/><use href="#hx" x="111.6" y="791.7"/><use href="#hx" x="113.1" y="791.4"/><use href="#hx" x="114.6" y="791.2"/><use href="#hx" x="116.1" y="790.9"/><use href="#hx" x="117.7" y="790.5"/><use href="#hx" x="119.2" y="790.1"/><use href="#hx" x="120.7" y="789.7"/><use href="#hx" x="122.2" y="789.4"/><use href="#hx" x="123.7" y="789.0"/><use href="#hx" x="125.2" y="788.6"/><use href="#hx" x="126.7" y="788.1"/><use href="#hx" x="128.3" y="787.6"/><use href="#hx" x="129.8" y="787.0"/><use href="#hx" x="131.3" y="786.3"/><use href="#hx" x="132.8" y="785.7"/><use href="#hx" x="134.3" y="785.1"/><use href="#hx" x="135.8" y="784.4"/><use href="#hx" x="137.3" y="783.7"/><use href="#hx" x="138.8" y="782.9"/><use href="#hx" x="140.4" y="782.2"/><use href="#hx" x="141.9" y="781.4"/><use href="#hx" x="143.4" y="780.7"/><use href="#hx" x="144.9" y="779.9"/><use href="#hx" x="146.4" y="779.0"/><use href="#hx" x="147.9" y="778.2"/><use href="#hx" x="149.4" y="777.3"/><use href="#hx" x="151.0" y="776.4"/><use href="#hx" x="152.5" y="775.4"/><use href="#hx" x="154.0" y="774.5"/><use href="#hx" x="155.5" y="773.5"/><use href="#hx" x="157.0" y="772.5"/><use href="#hx" x="158.5" y="771.4"/><use href="#hx" x="160.0" y="770.3"/><use href="#hx" x="161.5" y="769.2"/><use href="#hx" x="163.1" y="768.1"/><use href="#hx" x="164.6" y="766.9"/><use href="#hx" x="166.1" y="765.7"/><use href="#hx" x="167.6" y="764.5"/><use href="#hx" x="169.1" y="763.2"/><use href="#hx" x="170.6" y="761.9"/><use href="#hx" x="172.1" y="760.6"/><use href="#hx" x="173.7" y="759.3"/><use href="#hx" x="175.2" y="757.9"/><use href="#hx" x="176.7" y="756.4"/><use href="#hx" x="178.2" y="755.0"/><use href="#hx" x="179.7" y="753.5"/><use href="#hx" x="181.2" y="752.0"/><use href="#hx" x="182.7" y="750.4"/><use href="#hx" x="184.3" y="748.8"/><use href="#hx" x="185.8" y="747.2"/><use href="#hx" x="187.3" y="745.5"/><use href="#hx" x="188.8" y="743.8"/><use href="#hx" x="190.3" y="742.1"/><use href="#hx" x="191.8" y="740.3"/><use href="#hx" x="193.3" y="738.5"/><use href="#hx" x="194.8" y="736.7"/><use href="#hx" x="196.4" y="734.8"/><use href="#hx" x="197.9" y="732.9"/><use href="#hx" x="199.4" y="731.0"/><use href="#hx" x="200.9" y="729.0"/><use href="#hx" x="202.4" y="727.0"/><use href="#hx" x="203.9" y="725.1"/><use href="#hx" x="205.4" y="723.1"/><use href="#hx" x="207.0" y="721.1"/><use href="#hx" x="208.5" y="719.0"/><use href="#hx" x="210.0" y="716.8"/><use href="#hx" x="211.5" y="714.6"/><use href="#hx" x="213.0" y="712.5"/><use href="#hx" x="214.5" y="710.4"/><use href="#hx" x="216.0" y="708.2"/><use href="#hx" x="217.5" y="706.0"/><use href="#hx" x="219.1" y="703.6"/><use href="#hx" x="220.6" y="701.2"/><use href="#hx" x="222.1" y="699.1"/><use href="#hx" x="223.6" y="697.4"/><use href="#hx" x="225.1" y="696.1"/><use href="#hx" x="226.6" y="694.9"/><use href="#hx" x="228.1" y="693.6"/><use href="#hx" x="229.7" y="692.3"/><use href="#hx" x="231.2" y="691.0"/><use href="#hx" x="232.7" y="689.7"/><use href="#hx" x="234.2" y="688.5"/><use href="#hx" x="235.7" y="687.2"/><use href="#hx" x="237.2" y="686.1"/><use href="#hx" x="238.7" y="685.1"/><use href="#hx" x="240.3" y="684.4"/><use href="#hx" x="241.8" y="683.7"/><use href="#hx" x="243.3" y="683.1"/><use href="#hx" x="244.8" y="682.5"/><use href="#hx" x="246.3" y="681.9"/><use href="#hx" x="247.8" y="681.3"/><use href="#hx" x="249.3" y="680.7"/><use href="#hx" x="250.8" y="680.2"/><use href="#hx" x="252.4" y="679.6"/><use href="#hx" x="253.9" y="679.1"/><use href="#hx" x="255.4" y="678.5"/><use href="#hx" x="256.9" y="677.9"/><use href="#hx" x="258.4" y="677.3"/><use href="#hx" x="259.9" y="676.6"/><use href="#hx" x="261.4" y="676.0"/><use href="#hx" x="263.0" y="675.4"/><use href="#hx" x="264.5" y="674.8"/><use href="#hx" x="266.0" y="674.2"/><use href="#hx" x="267.5" y="673.7"/><use href="#hx" x="269.0" y="673.2"/><use href="#hx" x="270.5" y="672.6"/><use href="#hx" x="272.0" y="672.0"/><use href="#hx" x="273.5" y="671.5"/><use href="#hx" x="275.1" y="670.9"/><use href="#hx" x="276.6" y="670.4"/><use href="#hx" x="278.1" y="669.8"/>
<use href="#hx" x="283.7" y="667.4"/><use href="#hx" x="294.4" y="662.0"/><use href="#hx" x="304.5" y="661.2"/><use href="#hx" x="315.3" y="656.6"/><use href="#hx" x="325.7" y="650.2"/><use href="#hx" x="335.8" y="645.2"/><use href="#hx" x="346.5" y="640.7"/><use href="#hx" x="357.0" y="634.3"/><use href="#hx" x="367.1" y="629.6"/><use href="#hx" x="377.4" y="622.3"/><use href="#hx" x="387.8" y="617.4"/><use href="#hx" x="398.1" y="613.6"/><use href="#hx" x="408.5" y="610.0"/><use href="#hx" x="418.7" y="606.0"/><use href="#hx" x="429.0" y="602.0"/><use href="#hx" x="439.3" y="597.6"/><use href="#hx" x="449.7" y="593.8"/><use href="#hx" x="460.0" y="590.4"/><use href="#hx" x="470.3" y="587.0"/><use href="#hx" x="480.6" y="583.9"/><use href="#hx" x="491.0" y="581.2"/><use href="#hx" x="501.3" y="578.5"/><use href="#hx" x="511.6" y="576.1"/><use href="#hx" x="522.0" y="573.6"/><use href="#hx" x="532.3" y="571.7"/><use href="#hx" x="542.6" y="569.8"/><use href="#hx" x="552.7" y="567.9"/><use href="#hx" x="563.2" y="566.3"/><use href="#hx" x="573.5" y="564.7"/><use href="#hx" x="583.5" y="563.0"/>
<use href="#sq" x="96.7" y="798.0"/><use href="#sq" x="101.7" y="796.5"/><use href="#sq" x="106.8" y="794.9"/><use href="#sq" x="111.8" y="793.3"/><use href="#sq" x="116.9" y="791.7"/><use href="#sq" x="121.9" y="790.0"/><use href="#sq" x="126.9" y="788.1"/><use href="#sq" x="132.0" y="786.1"/><use href="#sq" x="137.0" y="783.8"/><use href="#sq" x="142.1" y="781.3"/><use href="#sq" x="147.1" y="778.6"/><use href="#sq" x="152.2" y="775.6"/><use href="#sq" x="157.2" y="772.3"/><use href="#sq" x="162.3" y="768.7"/><use href="#sq" x="167.3" y="764.7"/><use href="#sq" x="172.3" y="760.4"/><use href="#sq" x="177.4" y="755.8"/><use href="#sq" x="182.4" y="750.7"/><use href="#sq" x="187.5" y="745.3"/><use href="#sq" x="192.5" y="739.5"/><use href="#sq" x="197.6" y="733.3"/><use href="#sq" x="202.6" y="726.8"/><use href="#sq" x="207.7" y="720.1"/><use href="#sq" x="212.7" y="712.9"/><use href="#sq" x="217.8" y="705.7"/><use href="#sq" x="222.8" y="698.2"/><use href="#sq" x="227.8" y="690.9"/><use href="#sq" x="232.9" y="684.9"/><use href="#sq" x="237.9" y="680.8"/><use href="#sq" x="243.0" y="676.9"/><use href="#sq" x="248.0" y="674.0"/><use href="#sq" x="253.1" y="672.0"/><use href="#sq" x="258.1" y="671.7"/>
<use href="#sq" x="262.8" y="672.6"/><use href="#sq" x="267.8" y="669.2"/><use href="#sq" x="272.8" y="671.7"/><use href="#sq" x="277.8" y="666.7"/><use href="#sq" x="283.9" y="667.6"/><use href="#sq" x="289.4" y="662.6"/><use href="#sq" x="294.9" y="662.6"/><use href="#sq" x="300.0" y="665.1"/><use href="#sq" x="305.3" y="657.6"/><use href="#sq" x="310.3" y="653.0"/><use href="#sq" x="314.6" y="656.0"/><use href="#sq" x="319.7" y="650.8"/><use href="#sq" x="326.0" y="649.2"/><use href="#sq" x="335.5" y="645.2"/><use href="#sq" x="345.9" y="640.7"/><use href="#sq" x="356.0" y="634.3"/><use href="#sq" x="366.7" y="629.6"/><use href="#sq" x="376.8" y="619.7"/>
</g>
<path class="ln" d="M77.5 545.5H582V802.6H77.5ZM178.4 802.6v-7M178.4 545.5v7M279.3 802.6v-7M279.3 545.5v7M380.2 802.6v-7M380.2 545.5v7M481.1 802.6v-7M481.1 545.5v7M97.7 802.6v-4M97.7 545.5v4M117.9 802.6v-4M117.9 545.5v4M138 802.6v-4M138 545.5v4M158.2 802.6v-4M158.2 545.5v4M198.6 802.6v-4M198.6 545.5v4M218.8 802.6v-4M218.8 545.5v4M238.9 802.6v-4M238.9 545.5v4M259.1 802.6v-4M259.1 545.5v4M299.5 802.6v-4M299.5 545.5v4M319.7 802.6v-4M319.7 545.5v4M339.8 802.6v-4M339.8 545.5v4M360 802.6v-4M360 545.5v4M400.4 802.6v-4M400.4 545.5v4M420.6 802.6v-4M420.6 545.5v4M440.7 802.6v-4M440.7 545.5v4M460.9 802.6v-4M460.9 545.5v4M501.3 802.6v-4M501.3 545.5v4M521.5 802.6v-4M521.5 545.5v4M541.6 802.6v-4M541.6 545.5v4M561.8 802.6v-4M561.8 545.5v4M77.5 753.4h7M582 753.4h-7M77.5 704.2h7M582 704.2h-7M77.5 655h7M582 655h-7M77.5 605.8h7M582 605.8h-7M77.5 556.6h7M582 556.6h-7M77.5 778h4M582 778h-4M77.5 728.8h4M582 728.8h-4M77.5 679.6h4M582 679.6h-4M77.5 630.4h4M582 630.4h-4M77.5 581.2h4M582 581.2h-4"/>
<text class="t" x="70" y="808.2" text-anchor="end">0.0</text>
<text class="t" x="70" y="759.0" text-anchor="end">0.1</text>
<text class="t" x="70" y="709.8" text-anchor="end">0.2</text>
<text class="t" x="70" y="660.6" text-anchor="end">0.3</text>
<text class="t" x="70" y="611.4" text-anchor="end">0.4</text>
<text class="t" x="70" y="562.2" text-anchor="end">0.5</text>
<text class="t" x="77.5" y="824.2" text-anchor="middle">0</text>
<text class="t" x="178.4" y="824.2" text-anchor="middle">10</text>
<text class="t" x="279.3" y="824.2" text-anchor="middle">20</text>
<text class="t" x="380.2" y="824.2" text-anchor="middle">30</text>
<text class="t" x="481.1" y="824.2" text-anchor="middle">40</text>
<text class="t" x="582.0" y="824.2" text-anchor="middle">50</text>
<text class="t" x="313.2" y="848.5"><tspan font-style="italic">T</tspan> (K)</text>
<text class="yt" transform="translate(22.6 655.1) rotate(-90)" text-anchor="middle"><tspan font-style="italic">C</tspan>/<tspan font-style="italic">T</tspan> (J/(K<tspan font-size="12" dy="-9.2">2</tspan><tspan dy="9.2"> mol Cu))</tspan></text>
<text class="t" x="85.2" y="568.5" style="font-size:20px">(c)</text>
<text class="t g" x="218" y="645.1">T<tspan font-size="11.3" dx="2.6" dy="6.4">N</tspan></text>
<use href="#hx" x="515.8" y="750"/><text class="t" x="536" y="755.9">0 T</text>
<rect x="512" y="768.6" width="7.6" height="7.6" fill="#c85a0a" fill-opacity="0.55"/><text class="t" x="536" y="778.2">9 T</text>
</svg></body></html>
